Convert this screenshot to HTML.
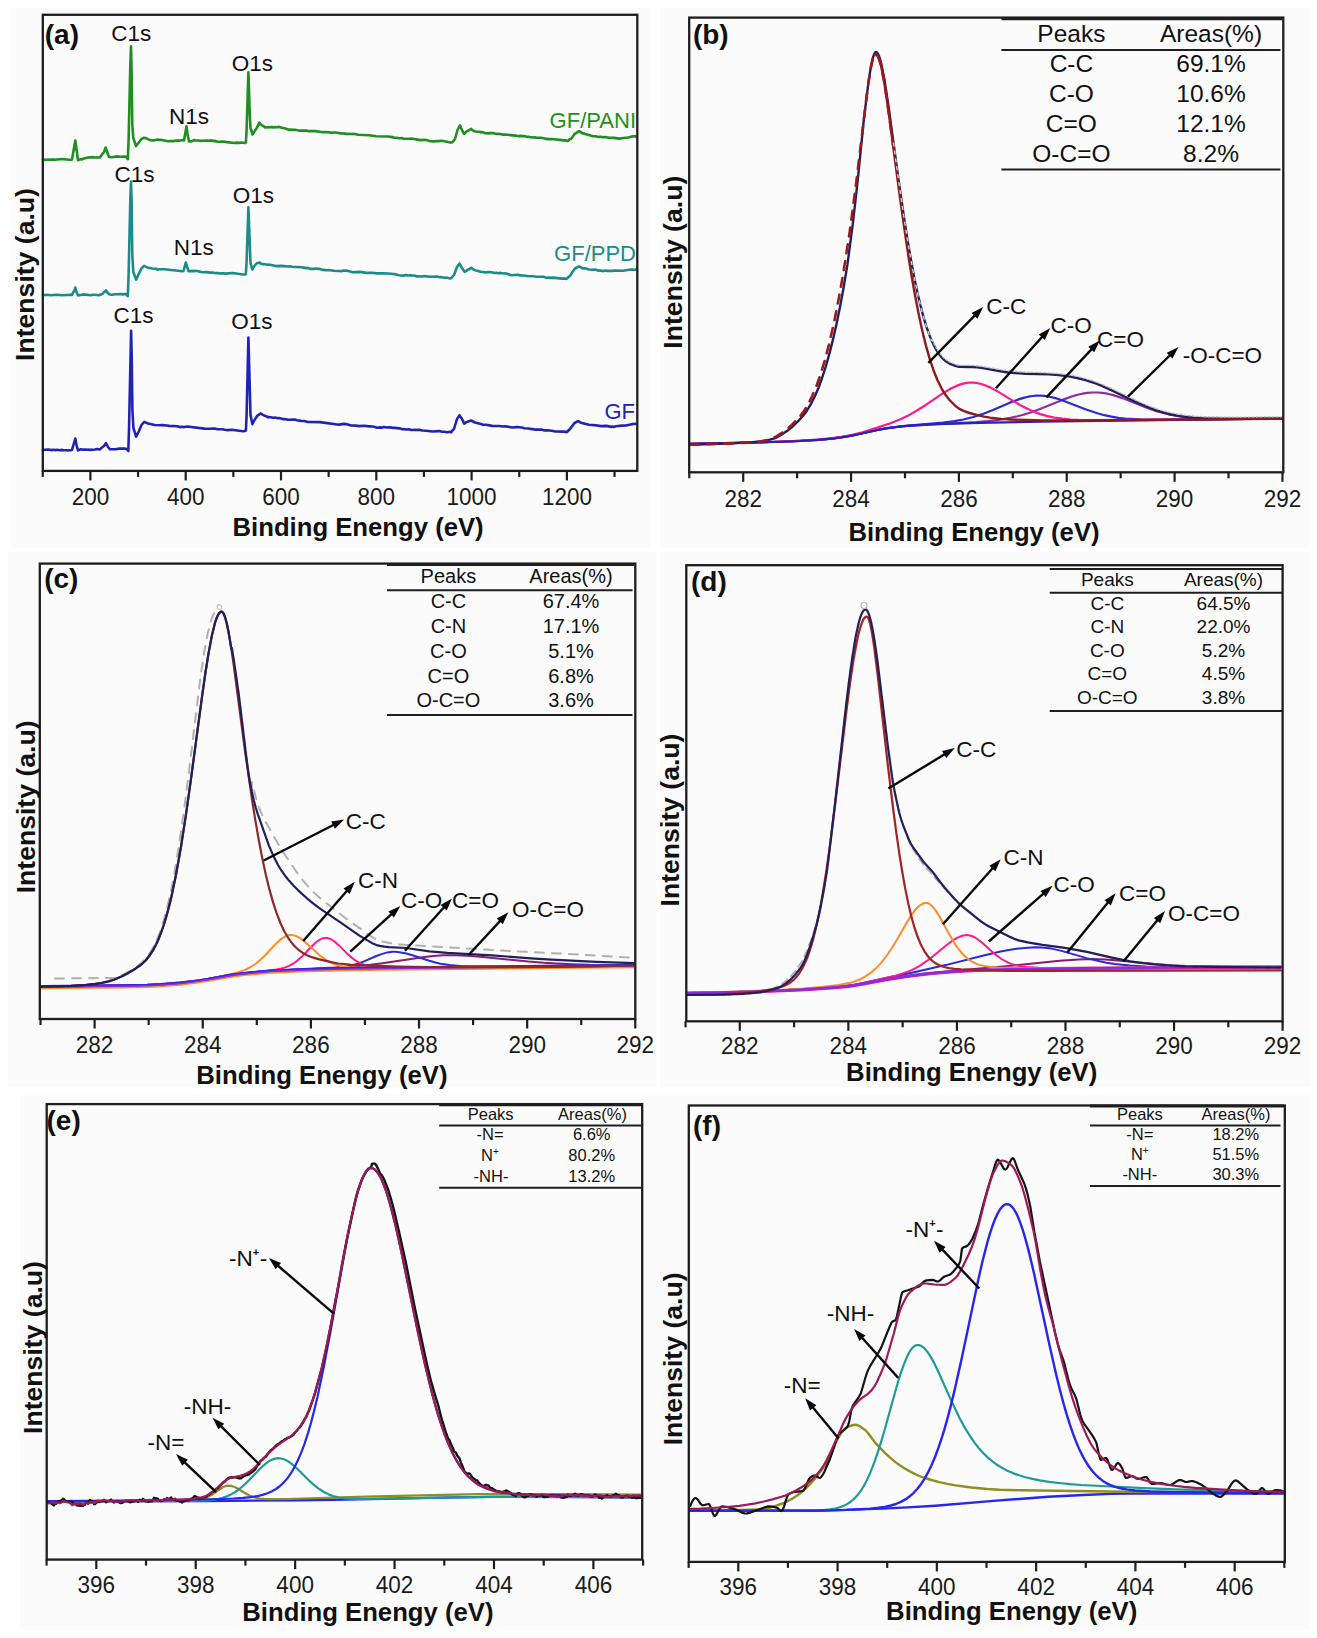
<!DOCTYPE html>
<html><head><meta charset="utf-8"><style>
html,body{margin:0;padding:0;background:#fff;overflow:hidden;width:1317px;height:1638px;}
svg{display:block;font-family:"Liberation Sans", sans-serif;}
</style></head><body>
<svg width="1317" height="1638" viewBox="0 0 1317 1638">
<rect x="0" y="0" width="1317" height="1638" fill="#fff"/>
<rect x="11" y="8" width="640" height="540" fill="#fbfbfb"/>
<rect x="660" y="8" width="650" height="540" fill="#fbfbfb"/>
<rect x="8" y="552" width="648" height="535" fill="#fbfbfb"/>
<rect x="660" y="552" width="650" height="535" fill="#fbfbfb"/>
<rect x="20" y="1095" width="640" height="535" fill="#fbfbfb"/>
<rect x="660" y="1095" width="650" height="535" fill="#fbfbfb"/>
<path d="M43,159.7 44,159.4 46,159.9 49,159.5 51,159.7 53,159.4 55,159.8 62,159 69,159.8 71,159.9 72,159.5 75.3,140.5 78,160.3 80,159.4 81,159.1 82,159.5 83,158.8 88,157.5 93,157.1 94,157.5 100,157.5 102,154.4 104,152 105.6,147.5 109,157 112,157.2 117,156.4 120.3,156.7 125.9,156.5 127.8,159.2 128.6,140 130.3,65 131,46.4 131.6,70 132.3,125 133.3,138 136,146 141.5,139 143.7,137.8 145.9,138.1 150,140.2 153.3,140.4 157.8,139.4 158.8,139.9 159.8,140 160.9,139.8 168,141.3 170,141 173,141.1 177,140.5 180,140.6 183,140 184,140.5 186.5,126.2 187.5,134 189,141.5 191,141.4 193,140.8 194,140 195,140.5 198.1,140.5 201.1,140.9 207.2,140.5 209.2,140.7 210.3,140.4 215.3,141.1 217.4,141.7 222.4,141.5 225.5,141.7 226.5,142.1 234.6,143 236.7,142.6 238.7,142.9 241.8,142.5 244.8,143 245.9,142.4 246.6,130 248.4,72.4 249.8,115 250.5,128 252.5,134.5 256.8,127.9 259.4,122.6 260.6,124.2 265.1,127.4 272.3,127.1 273.3,127.4 275.3,127.1 277.4,127.3 278.4,126.8 282.6,128 283.7,128 288.9,129.7 290,129.5 293,129.9 295,129.8 299,130.6 306,130.5 308,131.1 315,131.1 323,132.2 324,132 330,132.4 332,132.8 333,132.5 335,132.5 339,133 340,133.4 344,133.5 346.1,133.9 347.1,133.7 351.1,134 353.1,133.9 354.1,134.1 355.1,133.9 358.1,134.7 369.1,135.3 376.2,136.3 388.2,136.5 392.2,137.1 394.2,137.8 396.2,137.7 399.2,138.3 401.2,138 403.2,138.6 409.3,138.7 411.3,138.5 420.3,140.1 424.3,139.8 426.3,140 430.3,141.2 434.3,141.4 437.4,141 439.4,141.1 440.4,140.7 443.4,141 450.4,142.6 452.4,142.3 455,139 457.5,130 460,125.3 461,128 464,134 466.3,131.7 471.2,128.9 472.6,130.4 475.1,131.5 479.6,131.7 480.7,132.4 481.7,132.1 485.7,133.3 488.7,133.4 489.7,133 492.7,133.1 496.7,133.9 498.7,133.8 502.7,134.6 504.7,134.5 515.7,135.6 518.7,136.2 519.7,135.9 523.7,136.1 527.8,137 528.8,136.8 529.8,137.1 533.8,137.5 534.8,137.3 535.8,137.6 540.8,137.7 544.8,138.6 548.8,139.1 551.8,139 563.8,140.4 564.8,140.3 566.8,140.6 567.8,141.1 569.9,139 571,139 575,133.5 576,133.2 579,131.2 583,133.5 584,133.5 585,134 589,135.1 590,135 591.1,135.8 593.2,136.3 595.4,136.2 598.6,136.9 601.7,136.9 602.7,137.2 604.8,137 608.9,137.8 613.9,137.9 619,138.6 628,137.5 633,136.3 636,136.4" fill="none" stroke="#1f8f22" stroke-width="2.6" stroke-linejoin="round" stroke-linecap="round" />
<path d="M43,295.5 44,295 47,294.7 51,295.2 57,294.8 62,295.3 71,294.7 72,295 73.2,292.3 74.5,290.5 75.3,287.6 76.5,292 78,295.5 83,294.4 91,295.2 92,294.8 95,294.8 99,295.3 100,294.5 101,294.7 103,293.5 104,292 105,291.6 106,290.3 107,292 109,294 110,294.5 112.1,294.8 115.3,294.3 121.7,294.1 122.7,294.4 125.9,294 127.8,296 128.6,275 130.3,200 131,181.6 131.6,200 132.3,255 133.3,272 136.1,279.6 141.5,268.5 144.1,265.9 149.1,268.1 150.1,267.9 152.2,268.5 156.4,268.9 157.4,269.6 159.5,269.2 164.5,269.3 182.5,271.3 183.5,271 185.8,262.5 188.5,271.2 192.9,270.9 194,271.2 195,270.8 197,271 202.1,272.2 206.2,272.1 210.3,272.6 212.3,272.5 214.3,273 218.4,273.1 219.4,273.5 222.4,273.2 225.5,273.6 232.6,273 242.8,274.5 244.8,274.5 245.9,274 246.6,262 248.4,207.4 250.5,263 252.3,269.5 254,266.5 257,263 258.4,263 259.8,262.5 260.9,263.6 261.9,264.1 263,264 267.8,264.8 268.8,264.5 275.8,266.1 281.8,265.9 287.9,266.5 289.9,266.3 291.9,266.7 301.9,267.2 302.9,267.6 307.9,268.1 310.9,268.9 313.9,268.9 316,268.5 317,268.9 320,268.9 323,269.9 327,270.2 328,270 334,270.8 342,271.1 344,270.5 346,270.6 353,272.3 360,271.9 366.1,272.9 372.1,272.7 377.1,273.4 383.1,273.2 391.1,273.7 396.1,274.4 399.1,275.3 403.1,275.6 406.1,275.1 408.1,275.5 410.1,275.3 415.1,275.7 417.1,276.4 422.2,276.5 424.2,276.1 430.2,276.8 437.2,276.5 440.2,277.2 441.2,277 445.2,277.9 446.2,277.5 450.2,278.4 451.2,278.2 454,275 457,267 459.5,263.6 462,268 464.6,271.8 466.9,270.5 468,269.5 469.1,269.4 471.2,267.8 473.7,269.6 476.1,270.6 480.7,271.8 485.8,272.4 488.8,272 491.8,272.3 493.8,272.9 496.9,272.9 497.9,273.2 500.9,272.9 503.9,273.5 505,273.3 507,273.7 511,275.2 518.1,274.8 520.1,275.4 523.1,275.5 529.2,276.3 533.3,276.2 535.3,276.6 543.4,276.8 546.4,277.7 548.4,277.6 550.4,277.9 553.5,277.6 561.5,278.6 564.6,278.4 566.6,278.9 568.9,276.7 570,276 572,272.6 575,268.5 579,266.4 583,268.5 585,268.3 589,269.5 592.1,269.8 595.1,269.5 598.2,270.6 600.2,270.5 603.3,271.1 605.3,270.6 607.4,270.9 611.5,270.7 612.5,271 613.5,270.6 622.9,270.7 631,269.5 635,269.9 636,269.5" fill="none" stroke="#1a8c8c" stroke-width="2.6" stroke-linejoin="round" stroke-linecap="round" />
<path d="M43,450.3 44,449.8 46,449.8 48,449.5 52,450.1 53,449.8 56,450.1 57,449.8 60,450.2 61,449.9 64,450.3 67,450.2 68,450.5 72,450 75.3,438.5 76.5,445 78,450.5 79,449.9 81,449.3 83,449.8 84,449.5 91,449.9 95,449.5 97,448.9 100,449.5 101,448.3 104,446 106,443 108,447 110,449.3 115.2,449.2 119.3,448.6 124.4,448.5 126.5,449 128.3,451 129,430 131.1,330.8 131.7,355 132.4,410 133.4,428 136.1,436.7 139,431 141.5,425 144.3,421.9 148,423.5 154.9,425 160,425.3 162,425.1 167,425.5 169.1,425.9 177.1,426.3 180.2,427.1 182.2,426.8 184.2,427.1 187.2,426.5 204.4,428.6 208.4,428.8 214.5,428.5 217.5,429.2 222.6,429.2 224.6,429.8 227.6,430.1 231.7,429.8 242.8,431.2 243.8,431.2 245.9,430.5 246.6,415 248.4,337.6 250.5,415 252.3,424.1 254.5,420 257.5,415.5 258.5,415.1 260.5,413.4 264,415.5 266.5,416.4 267.8,417.3 268.8,417 273.8,417.7 274.8,417.5 277.8,418.3 278.8,418.1 282.8,419.1 284.9,419 287.9,419.7 294.9,419.6 296.9,420.2 300.9,420.9 303.9,421 307.9,422 320,422.1 337,424.5 339,424.6 344,423.9 347,424.3 351,425.5 356,425.6 359,426.1 364.1,425.7 369.1,426.4 370.1,426.2 374.1,426.8 377.1,427.7 380.1,427.4 382.1,427.6 384.1,426.9 387.1,427.5 389.1,427.2 393.1,427.9 395.1,427.7 396.1,428.1 400.1,428.4 402.1,429.3 403.1,429.1 407.1,429.5 409.1,429.3 411.1,430 415.1,429.8 416.1,430 418.1,429.8 420.1,429.9 422.2,430.5 426.2,430.7 432.2,431.5 439.2,431.1 442.2,431.8 444.2,431.8 447.2,432.2 450.2,431.8 451.2,432.3 452.6,430.2 454,429 457,419 459.5,415.3 462,419 464.2,423.6 466.7,421.9 471.2,420.5 475,422.5 482,424.3 483,424.8 486,424.7 492.1,425.9 499.1,426 503.1,426.5 505.2,426.3 512.2,427.5 517.2,427.1 519.3,427.3 523.3,427.8 524.3,428.3 528.3,428.5 535.4,429.6 541.4,429.5 544.4,430.4 547.5,430.3 551.5,430.7 555.5,431.5 563.6,431.6 565.6,431.9 566.6,432.3 570,429 574.5,423 577.1,421.6 578.4,421.2 580.8,422.7 589,424.8 595.1,425.2 601.3,426.1 606.4,425.9 611.5,426.9 612.5,426.6 613.5,426.9 615.6,426.2 621.9,425.6 626,425.5 633,423.9 636,424" fill="none" stroke="#2323b3" stroke-width="2.6" stroke-linejoin="round" stroke-linecap="round" />
<rect x="42.8" y="14.8" width="594.5" height="456.1" fill="none" stroke="#1e1e1e" stroke-width="2.3"/>
<line x1="90.4" y1="470.9" x2="90.4" y2="480.4" stroke="#1e1e1e" stroke-width="2.2" />
<line x1="185.7" y1="470.9" x2="185.7" y2="480.4" stroke="#1e1e1e" stroke-width="2.2" />
<line x1="281" y1="470.9" x2="281" y2="480.4" stroke="#1e1e1e" stroke-width="2.2" />
<line x1="376.3" y1="470.9" x2="376.3" y2="480.4" stroke="#1e1e1e" stroke-width="2.2" />
<line x1="471.6" y1="470.9" x2="471.6" y2="480.4" stroke="#1e1e1e" stroke-width="2.2" />
<line x1="566.9" y1="470.9" x2="566.9" y2="480.4" stroke="#1e1e1e" stroke-width="2.2" />
<line x1="42.75" y1="470.9" x2="42.75" y2="476.9" stroke="#1e1e1e" stroke-width="2.2" />
<line x1="138.05" y1="470.9" x2="138.05" y2="476.9" stroke="#1e1e1e" stroke-width="2.2" />
<line x1="233.35" y1="470.9" x2="233.35" y2="476.9" stroke="#1e1e1e" stroke-width="2.2" />
<line x1="328.65" y1="470.9" x2="328.65" y2="476.9" stroke="#1e1e1e" stroke-width="2.2" />
<line x1="423.95" y1="470.9" x2="423.95" y2="476.9" stroke="#1e1e1e" stroke-width="2.2" />
<line x1="519.25" y1="470.9" x2="519.25" y2="476.9" stroke="#1e1e1e" stroke-width="2.2" />
<line x1="614.55" y1="470.9" x2="614.55" y2="476.9" stroke="#1e1e1e" stroke-width="2.2" />
<text transform="translate(90.4,504.5) scale(1,1.08)" font-size="22.5" text-anchor="middle" fill="#1a1a1a" >200</text>
<text transform="translate(185.7,504.5) scale(1,1.08)" font-size="22.5" text-anchor="middle" fill="#1a1a1a" >400</text>
<text transform="translate(281,504.5) scale(1,1.08)" font-size="22.5" text-anchor="middle" fill="#1a1a1a" >600</text>
<text transform="translate(376.3,504.5) scale(1,1.08)" font-size="22.5" text-anchor="middle" fill="#1a1a1a" >800</text>
<text transform="translate(471.6,504.5) scale(1,1.08)" font-size="22.5" text-anchor="middle" fill="#1a1a1a" >1000</text>
<text transform="translate(566.9,504.5) scale(1,1.08)" font-size="22.5" text-anchor="middle" fill="#1a1a1a" >1200</text>
<text x="358.1" y="535.8" font-size="25.7" text-anchor="middle" fill="#111" font-weight="bold" >Binding Enengy (eV)</text>
<text x="0" y="0" font-size="26.6" text-anchor="middle" fill="#111" font-weight="bold" transform="translate(33.6,274.5) rotate(-90)">Intensity (a.u)</text>
<text x="44.8" y="44.2" font-size="28" text-anchor="start" fill="#111" font-weight="bold" >(a)</text>
<text x="131.3" y="41" font-size="22.5" text-anchor="middle" fill="#111" >C1s</text>
<text x="252.3" y="71" font-size="22.5" text-anchor="middle" fill="#111" >O1s</text>
<text x="189" y="124" font-size="22.5" text-anchor="middle" fill="#111" >N1s</text>
<text x="134.5" y="182.2" font-size="22.5" text-anchor="middle" fill="#111" >C1s</text>
<text x="253.3" y="203.3" font-size="22.5" text-anchor="middle" fill="#111" >O1s</text>
<text x="193.7" y="254.5" font-size="22.5" text-anchor="middle" fill="#111" >N1s</text>
<text x="133.6" y="322.8" font-size="22.5" text-anchor="middle" fill="#111" >C1s</text>
<text x="251.8" y="328.9" font-size="22.5" text-anchor="middle" fill="#111" >O1s</text>
<text x="636" y="127.7" font-size="22" text-anchor="end" fill="#1f8f22" >GF/PANI</text>
<text x="636" y="260.8" font-size="22" text-anchor="end" fill="#1a8c8c" >GF/PPD</text>
<text x="635" y="418.9" font-size="22" text-anchor="end" fill="#2323b3" >GF</text>
<path d="M690.4,443.8 737.4,442.9 772.4,442 799.4,441 819.4,439.8 833.4,438.4 845.4,436.7 855.4,434.8 879.4,429.5 888.4,428 898.4,426.7 909.4,425.7 922.4,424.8 976.4,422.1 987.4,421.2 996.4,420.2 1003.4,419.2 1010.4,417.9 1017.4,416.3 1023.4,414.7 1030.4,412.5 1037.4,410 1062.4,399.9 1072.4,396.3 1077.4,394.8 1082.4,393.7 1087.4,392.9 1092.4,392.5 1097.4,392.5 1102.4,392.9 1107.4,393.7 1112.4,394.9 1122.4,398.1 1145.4,407.2 1156.4,411.1 1162.4,412.8 1168.4,414.3 1174.4,415.5 1181.4,416.6 1188.4,417.5 1195.4,418 1213.4,418.8 1236.4,418.9 1281.4,418.5" fill="none" stroke="#8e2d9e" stroke-width="2.2" stroke-linejoin="round" stroke-linecap="round" />
<path d="M690.4,443.8 750.4,442.6 790.4,441.4 818.4,439.8 829.4,438.9 839.4,437.7 851.4,435.7 876.4,430.1 889.4,427.8 905.4,425.9 943.4,422.7 954.4,421.2 963.4,419.5 973.4,417 983.4,413.7 992.4,410.2 1010.4,402.4 1019.4,399.1 1024.4,397.6 1028.4,396.7 1032.4,396 1036.4,395.7 1040.4,395.7 1044.4,395.9 1048.4,396.5 1053.4,397.6 1058.4,399 1063.4,400.7 1085.4,409.3 1097.4,413.3 1104.4,415.2 1111.4,416.7 1118.4,417.8 1125.4,418.5 1140.4,419.4 1160.4,419.7 1281.4,418.5" fill="none" stroke="#2a2ad6" stroke-width="2.2" stroke-linejoin="round" stroke-linecap="round" />
<path d="M690.4,443.8 758.4,442.3 782.4,441.5 802.4,440.6 817.4,439.6 830.4,438.4 841.4,436.9 851.4,435 862.4,432.2 877.4,427.6 890.4,423.2 900.4,419.2 909.4,414.9 917.4,410.3 925.4,405.2 942.4,393.6 951.4,388.3 956.4,385.9 961.4,384.1 966.4,382.9 970.4,382.5 974.4,382.7 979.4,383.5 984.4,385 989.4,387 993.4,389 998.4,391.9 1013.4,401.1 1020.4,405.2 1027.4,408.8 1034.4,411.9 1040.4,414.1 1047.4,416.1 1054.4,417.6 1062.4,418.7 1070.4,419.5 1078.4,419.9 1102.4,420.2 1281.4,418.5" fill="none" stroke="#ff1a8c" stroke-width="2.2" stroke-linejoin="round" stroke-linecap="round" />
<path d="M690.4,443.8 738.4,443 773.4,442 800.4,441 820.4,439.7 834.4,438.4 846.4,436.6 856.4,434.7 877.4,430 884.4,428.7 892.4,427.5 901.4,426.5 911.4,425.6 937.4,424.1 979.4,422.8 1041.4,421.6 1136.4,420.3 1281.4,418.6" fill="none" stroke="#2424b8" stroke-width="2.2" stroke-linejoin="round" stroke-linecap="round" />
<path d="M690.4,444.8 703.4,444.2 735.9,443.1 752.4,442.1 759.9,441.4 765.4,440.7 769.9,439.7 774.4,438.4 776.9,437.3 779.9,435.7 786.9,431.1 792.4,426.7 797.9,421.4 802.9,416 806.4,411.4 810.4,404.9 814.4,397.2 818.4,388 821.9,378.5 825.9,366.1 829.4,353.7 832.9,339.9 836.4,324.4 839.9,307.4 843.4,288.7 847.4,264.9 852.9,223.1 857.4,183.3 863.9,119.1 868.4,82.9 870.4,69.7 872.4,59.7 873.9,54.7 874.9,52.7 875.9,52 876.4,52.1 876.9,52.4 877.9,53.7 878.9,55.7 879.9,58.6 881.9,66.4 884.4,79.4 888.4,105.5 898.9,182.4 904.9,223.3 908.4,245.1 911.4,262.3 914.4,278.1 917.4,292.4 920.4,305.2 923.4,316.6 926.4,326.6 929.9,336.4 932.9,343.4 936.4,350.1 939.9,355.3 941.9,357.6 943.9,359.6 946.9,362 949.9,363.8 955.4,365.9 958.9,366.8 971.9,367 977.4,367.4 984.4,368.4 1004.9,372 1014.9,373.1 1025.4,373.7 1048.9,374.4 1058.4,375.1 1068.9,376.4 1079.4,378.5 1085.4,380.1 1090.9,381.8 1096.4,383.7 1102.4,386.1 1112.9,390.8 1137.9,402.9 1150.9,408.4 1157.4,410.7 1163.9,412.6 1170.4,414.3 1177.4,415.6 1184.9,416.8 1192.9,417.6 1201.4,418.2 1211.4,418.5 1235.9,418.8 1281.9,418.4" fill="none" stroke="#22205c" stroke-width="2.4" stroke-linejoin="round" stroke-linecap="round" />
<path d="M874.5,55.1 875,54.6 875.5,54.4 876,54.4 876.5,54.6 877.5,55.6 879,58.8 880,61.9 881.5,67.9 884,80.8 888,107.2 900.5,201.6 907.5,250.2 911.5,275.2 915,295.2 919,315.8 922.5,331.8 926,345.9 930,359.8 933.5,370.2 937.5,380.2 941.5,388.3 945.5,394.8 949.5,400 955.5,406 959,408.6 963.5,410.8 969.5,413 977.5,415.1 984,416.6 990,417.6 1001,418.9 1010.5,419.5 1043,420.4 1104,420.4 1281.5,418.6" fill="none" stroke="#8a1c1c" stroke-width="2.4" stroke-linejoin="round" stroke-linecap="round" />
<path d="M690.4,444.8 731.4,443.4 747.4,442.6 760.9,441.3 764.9,440.6 768.9,439.5 772.4,438.3 776.4,436.3 781.9,432.9 786.4,429.6 790.9,425.8 795.9,420.8 800.4,415.9 803.4,411.9 807.9,404.6 812.4,395.6 816.9,384.7 820.9,373.3 824.9,360 828.9,344.8 832.9,327.6 836.9,308.4 840.4,289.8 843.4,272.5 849.4,233.9 855.9,185.4 867.4,89.7 870.4,69.9 871.9,62.6 872.9,58.9 873.9,56.2 874.9,54.7 875.9,54.4 876.9,54.9 877.9,56.3 878.9,58.5 879.9,61.5 881.4,67.3 883.9,80.1 886.4,95.8 893.4,147.6" fill="none" stroke="#a01818" stroke-width="2.6" stroke-linejoin="round" stroke-linecap="round" stroke-dasharray="9 8" stroke-linecap="butt"/>
<path d="M893.5,143 899.5,186.9 904.5,221 909,248.8 913.5,273.6 918,295.2 922.5,313.5 927,328.5 929,334.1 931.5,340.4" fill="none" stroke="#d4d4dc" stroke-width="1.4" stroke-linejoin="round" stroke-linecap="round" stroke-dasharray="3 5" stroke-linecap="butt"/>
<path d="M932,339.8 934.5,345 937,349.5 939.5,353.1 942.5,356.7 945.5,359.4 948.5,361.4 950,362.2 956,364.5 959.5,365.3 972,365.4 978,365.9 985,366.9 1004,370.2 1011.5,371.2 1023.5,372 1046,372.7 1056,373.3 1067,374.5 1077.5,376.5 1084,378.1 1090,379.9 1096,382 1102,384.3 1113,389.2 1137.5,401.1 1149.5,406.2 1160.5,410.1 1171,412.8 1179,414.3 1187.5,415.5 1196.5,416.3 1207,416.8 1233,417.2 1282,416.8" fill="none" stroke="#bcbcc4" stroke-width="1.3" stroke-linejoin="round" stroke-linecap="round" stroke-dasharray="2 2" stroke-linecap="butt"/>
<rect x="689.2" y="17.6" width="594.1" height="454.7" fill="none" stroke="#1e1e1e" stroke-width="2.3"/>
<line x1="743.2" y1="472.3" x2="743.2" y2="481.8" stroke="#1e1e1e" stroke-width="2.2" />
<line x1="851.05" y1="472.3" x2="851.05" y2="481.8" stroke="#1e1e1e" stroke-width="2.2" />
<line x1="958.9" y1="472.3" x2="958.9" y2="481.8" stroke="#1e1e1e" stroke-width="2.2" />
<line x1="1066.75" y1="472.3" x2="1066.75" y2="481.8" stroke="#1e1e1e" stroke-width="2.2" />
<line x1="1174.6" y1="472.3" x2="1174.6" y2="481.8" stroke="#1e1e1e" stroke-width="2.2" />
<line x1="1282.45" y1="472.3" x2="1282.45" y2="481.8" stroke="#1e1e1e" stroke-width="2.2" />
<line x1="689.28" y1="472.3" x2="689.28" y2="478.3" stroke="#1e1e1e" stroke-width="2.2" />
<line x1="797.12" y1="472.3" x2="797.12" y2="478.3" stroke="#1e1e1e" stroke-width="2.2" />
<line x1="904.98" y1="472.3" x2="904.98" y2="478.3" stroke="#1e1e1e" stroke-width="2.2" />
<line x1="1012.82" y1="472.3" x2="1012.82" y2="478.3" stroke="#1e1e1e" stroke-width="2.2" />
<line x1="1120.67" y1="472.3" x2="1120.67" y2="478.3" stroke="#1e1e1e" stroke-width="2.2" />
<line x1="1228.52" y1="472.3" x2="1228.52" y2="478.3" stroke="#1e1e1e" stroke-width="2.2" />
<text transform="translate(743.2,506.5) scale(1,1.08)" font-size="22.5" text-anchor="middle" fill="#1a1a1a" >282</text>
<text transform="translate(851.05,506.5) scale(1,1.08)" font-size="22.5" text-anchor="middle" fill="#1a1a1a" >284</text>
<text transform="translate(958.9,506.5) scale(1,1.08)" font-size="22.5" text-anchor="middle" fill="#1a1a1a" >286</text>
<text transform="translate(1066.75,506.5) scale(1,1.08)" font-size="22.5" text-anchor="middle" fill="#1a1a1a" >288</text>
<text transform="translate(1174.6,506.5) scale(1,1.08)" font-size="22.5" text-anchor="middle" fill="#1a1a1a" >290</text>
<text transform="translate(1282.45,506.5) scale(1,1.08)" font-size="22.5" text-anchor="middle" fill="#1a1a1a" >292</text>
<text x="974" y="540.6" font-size="25.7" text-anchor="middle" fill="#111" font-weight="bold" >Binding Enengy (eV)</text>
<text x="0" y="0" font-size="26.6" text-anchor="middle" fill="#111" font-weight="bold" transform="translate(682,262.2) rotate(-90)">Intensity (a.u)</text>
<text x="692.9" y="43.8" font-size="28" text-anchor="start" fill="#111" font-weight="bold" >(b)</text>
<line x1="1001.4" y1="18.7" x2="1282.7" y2="18.7" stroke="#1e1e1e" stroke-width="3" />
<line x1="1001.4" y1="49.9" x2="1280.4" y2="49.9" stroke="#1e1e1e" stroke-width="2" />
<line x1="1001.4" y1="169.5" x2="1280.4" y2="169.5" stroke="#1e1e1e" stroke-width="2" />
<text x="1071.4" y="41.9" font-size="24.5" text-anchor="middle" fill="#111" >Peaks</text>
<text x="1211" y="41.9" font-size="24.5" text-anchor="middle" fill="#111" >Areas(%)</text>
<text x="1071.4" y="72" font-size="24.5" text-anchor="middle" fill="#111" >C-C</text>
<text x="1211" y="72" font-size="24.5" text-anchor="middle" fill="#111" >69.1%</text>
<text x="1071.4" y="102" font-size="24.5" text-anchor="middle" fill="#111" >C-O</text>
<text x="1211" y="102" font-size="24.5" text-anchor="middle" fill="#111" >10.6%</text>
<text x="1071.4" y="131.9" font-size="24.5" text-anchor="middle" fill="#111" >C=O</text>
<text x="1211" y="131.9" font-size="24.5" text-anchor="middle" fill="#111" >12.1%</text>
<text x="1071.4" y="161.5" font-size="24.5" text-anchor="middle" fill="#111" >O-C=O</text>
<text x="1211" y="161.5" font-size="24.5" text-anchor="middle" fill="#111" >8.2%</text>
<line x1="928.4" y1="362.9" x2="975.86" y2="314.4" stroke="#0a0a0a" stroke-width="2.4" />
<path d="M983.2,306.9 L977.39,318.7 L971.53,312.97 Z" fill="#0a0a0a"/>
<line x1="995.9" y1="388.2" x2="1043.17" y2="335.8" stroke="#0a0a0a" stroke-width="2.4" />
<path d="M1050.2,328 L1044.87,340.03 L1038.78,334.54 Z" fill="#0a0a0a"/>
<line x1="1046.4" y1="397.4" x2="1092.62" y2="348.06" stroke="#0a0a0a" stroke-width="2.4" />
<path d="M1099.8,340.4 L1094.25,352.33 L1088.26,346.72 Z" fill="#0a0a0a"/>
<line x1="1127.9" y1="396.6" x2="1171.01" y2="354.26" stroke="#0a0a0a" stroke-width="2.4" />
<path d="M1178.5,346.9 L1172.46,358.58 L1166.71,352.73 Z" fill="#0a0a0a"/>
<text x="986.3" y="313.7" font-size="22.5" text-anchor="start" fill="#111" >C-C</text>
<text x="1050.5" y="333.3" font-size="22.5" text-anchor="start" fill="#111" >C-O</text>
<text x="1097" y="347.4" font-size="22.5" text-anchor="start" fill="#111" >C=O</text>
<text x="1182.7" y="362.7" font-size="22.5" text-anchor="start" fill="#111" >-O-C=O</text>
<path d="M41.4,988.3 120.4,987.5 147.4,986.9 160.4,986.3 180.4,984.7 197.4,982.6 207.4,981.1 230.4,976.9 244.4,975.1 257.4,973.9 270.4,972.8 300.4,971.5 335.4,970.5 385.4,969.7 527.4,968.2 633.4,967.3" fill="none" stroke="#ff8c28" stroke-width="2.0" stroke-linejoin="round" stroke-linecap="round" />
<path d="M41.4,986.4 80.4,986.1 126.4,985.5 151.4,984.8 166.4,983.9 183.4,982.4 199.4,980.4 208.4,979 231.4,974.7 237.4,973.9 248.4,972.7 262.4,971.3 275.4,970.4 334.4,967.6 358.4,965.9 370.4,964.7 382.4,963.2 424.4,956.9 433.4,955.9 442.4,955.3 456.4,955.3 471.4,956 485.4,957.2 528.4,961.6 543.4,962.8 557.4,963.6 572.4,964.2 589.4,964.7 633.4,965" fill="none" stroke="#8b1a6b" stroke-width="2.0" stroke-linejoin="round" stroke-linecap="round" />
<path d="M41.4,986.5 119.4,985.7 145.4,985.1 159.4,984.5 179.4,982.9 194.4,981.2 206.4,979.5 232.4,974.7 238.4,973.9 253.4,972.4 265.4,971.3 277.4,970.6 324.4,968.6 337.4,967.8 347.4,966.4 355.4,964.4 363.4,961.6 376.4,956 381.4,954.1 387.4,952.4 392.4,951.8 395.4,951.8 399.4,952.2 406.4,953.5 412.4,955.3 429.4,960.8 435.4,962.5 440.4,963.7 449.4,965.1 460.4,966.1 472.4,966.5 489.4,966.6 633.4,965.5" fill="none" stroke="#2a2ad6" stroke-width="2.0" stroke-linejoin="round" stroke-linecap="round" />
<path d="M41.4,986.5 78.4,986.2 123.4,985.6 150.4,984.9 163.4,984.2 180.4,982.8 193.4,981.3 206.4,979.4 226.4,975.6 234.4,974.3 269.4,970.5 276.4,969.6 281.4,968.5 285.4,967.4 289.4,965.7 293.4,963.5 297.4,960.6 301.4,957.1 312.4,945.7 316.4,942 319.4,939.9 321.4,938.9 323.4,938.2 325.4,937.9 327.4,938 329.4,938.6 331.4,939.5 334.4,941.4 338.4,944.9 346.4,952.9 350.4,956.6 354.4,959.8 357.4,961.7 361.4,963.8 365.4,965.2 370.4,966.4 375.4,967 385.4,967.5 404.4,967.5 633.4,965.5" fill="none" stroke="#ff1a8c" stroke-width="2.0" stroke-linejoin="round" stroke-linecap="round" />
<path d="M41.4,986.5 114.4,985.7 138.4,985.3 155.4,984.7 171.4,983.5 187.4,981.9 202.4,979.9 215.4,977.5 230.4,974.2 239.4,971.9 245.4,969.7 250.4,967.2 255.4,964 260.4,959.8 265.4,955 275.4,944.3 280.4,939.6 283.4,937.5 285.4,936.4 288.4,935.3 290.4,935 292.4,935.1 295.4,935.8 297.4,936.6 300.4,938.4 305.4,942.3 319.4,955.1 324.4,958.9 328.4,961.4 333.4,963.8 338.4,965.4 343.4,966.5 349.4,967.2 359.4,967.7 377.4,967.7 633.4,965.5" fill="none" stroke="#ff8c28" stroke-width="2.0" stroke-linejoin="round" stroke-linecap="round" />
<path d="M41.4,986.5 120.4,985.7 147.4,985.1 160.4,984.5 180.4,982.9 197.4,980.8 207.4,979.3 230.4,975.1 244.4,973.3 257.4,972.1 270.4,971 300.4,969.7 335.4,968.7 385.4,967.9 527.4,966.4 633.4,965.5" fill="none" stroke="#8a2be2" stroke-width="2.6" stroke-linejoin="round" stroke-linecap="round" />
<path d="M41.4,985.7 120.4,984.9 147.4,984.3 160.4,983.7 180.4,982.1 197.4,980 207.4,978.5 230.4,974.3 244.4,972.5 257.4,971.3 270.4,970.2 300.4,968.9 335.4,967.9 385.4,967.1 527.4,965.6 633.4,964.7" fill="none" stroke="#2a2ad6" stroke-width="1.2" stroke-linejoin="round" stroke-linecap="round" />
<path d="M55,978.5 116,977.9 123.5,974.4 130,970.8 137.5,966 141.5,962.8 145.5,958.7 149.5,953.4 153,947.6 156.5,940.5 159,934.5 161.5,927.6 165.5,914.2 170,895.5 174,875.3 178.5,848.6 183.5,814 188,779.2 198.5,693 201.5,670.3 204,653.2 207.5,634.5 210.5,622.4 212,617.9 213.5,614.5 215,612.3 216,611.4 216.5,611.2 217.5,611.3 218,611.6 219.5,614 220,612.3 221,611.7 222,611.8 222.5,612.1 223.5,613.5 224.5,615.7 226,620.4 228,629.1 231.5,649.7 232,648.5 235.5,671.4 239,696.1 247.5,766.3 249.5,779.4 251.5,790.1 252,782 254,790.5 256.5,799.7 259,807.3 261.5,813.6 264.5,819.6 273.5,835.9 279,845.4 284.5,854.2 296,871.1 300.5,877.2 305,882.9 309,887.5 312.5,891.1 317,895.4 322,899.7 345,917.7 371,936.4 375,938.7 379,940.5 383.5,941.8 389.5,943 398.5,944.4 410,945.2 431.5,946.4 493,950.1 562.5,953.7 634,957.7" fill="none" stroke="#b0b0b0" stroke-width="2.0" stroke-linejoin="round" stroke-linecap="round" stroke-dasharray="9 8" stroke-linecap="butt"/>
<circle cx="219.3" cy="607" r="2.4" fill="none" stroke="#c4c4c4" stroke-width="1.1"/>
<path d="M41.4,986.6 71.4,985.8 86.4,984.9 95.4,983.9 101.4,983 108.4,981.4 113.9,979.7 121.4,976.5 128.4,972.9 135.4,968.7 141.4,964.5 145.4,960.7 149.4,955.8 152.9,950.4 156.4,943.8 158.9,938.2 161.4,931.8 163.9,924.5 166.4,916.3 168.9,907 171.4,896.7 175.9,875.3 180.9,847.4 185.9,815.2 190.9,779.7 202.4,693.8 205.4,673 208.4,654.1 211.9,635.4 214.9,623.2 216.4,618.7 217.9,615.2 219.4,612.9 220.9,611.7 221.9,611.8 222.4,612 222.9,612.6 223.9,614.3 224.9,616.8 226.9,624 229.4,636.7 233.4,662.8 245.4,753.7 251.9,798.8 255.4,820.7 258.9,840.8 262.4,858.9 265.9,875.1 269.4,889.4 272.9,901.9 276.4,912.7 280.4,923 284.4,931.5 288.4,938.3 292.9,944.3 295.4,947 297.9,949.3 302.4,952.7 306.9,955.2 312.4,957.4 318.4,959.1 332.4,962.4 338.4,963.5 349.9,964.5 365.4,965.4 398.4,966.5 427.9,967 449.4,967.2 510.9,967.1 555.9,966.9 596.4,966.3 633.9,965.5" fill="none" stroke="#8b2a2a" stroke-width="2.2" stroke-linejoin="round" stroke-linecap="round" />
<path d="M41.4,986.6 71.4,985.8 86.4,984.9 95.4,983.9 101.4,983 108.4,981.4 113.9,979.7 121.4,976.5 128.4,972.9 135.4,968.7 141.4,964.5 145.4,960.7 149.4,955.8 152.9,950.4 156.4,943.8 158.9,938.2 161.4,931.8 163.9,924.5 166.4,916.3 168.9,907 171.4,896.7 175.9,875.3 180.9,847.4 185.9,815.2 190.9,779.7 202.4,693.8 205.4,673 208.4,654.1 211.9,635.4 214.9,623.2 216.4,618.7 217.9,615.2 219.4,612.9 220.9,611.7 221.9,611.8 222.4,612 223.4,613.3 224.4,615.4 225.4,618.3 226.9,624 228.4,631.2 231.4,649 231.9,647.9 235.4,670.8 238.9,695.4 245.9,754 248.4,772.6 249.9,781.7 251.9,792 253.9,800.8 255.9,808.1 257.9,814.3 268.9,845.6 273.4,855.9 277.9,864.8 280.4,869 282.9,872.7 285.9,876.8 289.4,881.1 293.4,885.5 297.9,890.1 306.9,898.3 313.4,903.6 320.4,908.8 340.4,922.3 359.4,935.6 372.9,943.6 376.4,945.1 379.9,945.9 384.4,946.6 388.9,947.1 405.9,948 429.4,951.3 447.4,952.8 491.9,955.4 534.4,958.6 551.4,959.7 596.4,961.8 633.9,963.1" fill="none" stroke="#22205c" stroke-width="2.2" stroke-linejoin="round" stroke-linecap="round" />
<rect x="39.8" y="563.6" width="595.5" height="455.4" fill="none" stroke="#1e1e1e" stroke-width="2.3"/>
<line x1="94.6" y1="1019" x2="94.6" y2="1028.5" stroke="#1e1e1e" stroke-width="2.2" />
<line x1="202.74" y1="1019" x2="202.74" y2="1028.5" stroke="#1e1e1e" stroke-width="2.2" />
<line x1="310.88" y1="1019" x2="310.88" y2="1028.5" stroke="#1e1e1e" stroke-width="2.2" />
<line x1="419.02" y1="1019" x2="419.02" y2="1028.5" stroke="#1e1e1e" stroke-width="2.2" />
<line x1="527.16" y1="1019" x2="527.16" y2="1028.5" stroke="#1e1e1e" stroke-width="2.2" />
<line x1="635.3" y1="1019" x2="635.3" y2="1028.5" stroke="#1e1e1e" stroke-width="2.2" />
<line x1="40.53" y1="1019" x2="40.53" y2="1025" stroke="#1e1e1e" stroke-width="2.2" />
<line x1="148.67" y1="1019" x2="148.67" y2="1025" stroke="#1e1e1e" stroke-width="2.2" />
<line x1="256.81" y1="1019" x2="256.81" y2="1025" stroke="#1e1e1e" stroke-width="2.2" />
<line x1="364.95" y1="1019" x2="364.95" y2="1025" stroke="#1e1e1e" stroke-width="2.2" />
<line x1="473.09" y1="1019" x2="473.09" y2="1025" stroke="#1e1e1e" stroke-width="2.2" />
<line x1="581.23" y1="1019" x2="581.23" y2="1025" stroke="#1e1e1e" stroke-width="2.2" />
<text transform="translate(94.6,1052.5) scale(1,1.08)" font-size="22.5" text-anchor="middle" fill="#1a1a1a" >282</text>
<text transform="translate(202.74,1052.5) scale(1,1.08)" font-size="22.5" text-anchor="middle" fill="#1a1a1a" >284</text>
<text transform="translate(310.88,1052.5) scale(1,1.08)" font-size="22.5" text-anchor="middle" fill="#1a1a1a" >286</text>
<text transform="translate(419.02,1052.5) scale(1,1.08)" font-size="22.5" text-anchor="middle" fill="#1a1a1a" >288</text>
<text transform="translate(527.16,1052.5) scale(1,1.08)" font-size="22.5" text-anchor="middle" fill="#1a1a1a" >290</text>
<text transform="translate(635.3,1052.5) scale(1,1.08)" font-size="22.5" text-anchor="middle" fill="#1a1a1a" >292</text>
<text x="321.9" y="1083.7" font-size="25.7" text-anchor="middle" fill="#111" font-weight="bold" >Binding Enengy (eV)</text>
<text x="0" y="0" font-size="26.6" text-anchor="middle" fill="#111" font-weight="bold" transform="translate(34.5,806.9) rotate(-90)">Intensity (a.u)</text>
<text x="44.2" y="588.4" font-size="28" text-anchor="start" fill="#111" font-weight="bold" >(c)</text>
<line x1="387" y1="564.5" x2="634" y2="564.5" stroke="#1e1e1e" stroke-width="3" />
<line x1="387" y1="590.2" x2="632.5" y2="590.2" stroke="#1e1e1e" stroke-width="2" />
<line x1="387" y1="715" x2="632.5" y2="715" stroke="#1e1e1e" stroke-width="2" />
<text x="448.4" y="583.2" font-size="20" text-anchor="middle" fill="#111" >Peaks</text>
<text x="571" y="583.2" font-size="20" text-anchor="middle" fill="#111" >Areas(%)</text>
<text x="448.4" y="608.3" font-size="20" text-anchor="middle" fill="#111" >C-C</text>
<text x="571" y="608.3" font-size="20" text-anchor="middle" fill="#111" >67.4%</text>
<text x="448.4" y="632.5" font-size="20" text-anchor="middle" fill="#111" >C-N</text>
<text x="571" y="632.5" font-size="20" text-anchor="middle" fill="#111" >17.1%</text>
<text x="448.4" y="657.6" font-size="20" text-anchor="middle" fill="#111" >C-O</text>
<text x="571" y="657.6" font-size="20" text-anchor="middle" fill="#111" >5.1%</text>
<text x="448.4" y="682.8" font-size="20" text-anchor="middle" fill="#111" >C=O</text>
<text x="571" y="682.8" font-size="20" text-anchor="middle" fill="#111" >6.8%</text>
<text x="448.4" y="706.9" font-size="20" text-anchor="middle" fill="#111" >O-C=O</text>
<text x="571" y="706.9" font-size="20" text-anchor="middle" fill="#111" >3.6%</text>
<line x1="263.7" y1="860.5" x2="334.84" y2="824.27" stroke="#0a0a0a" stroke-width="2.4" />
<path d="M344.2,819.5 L334.92,828.83 L331.2,821.52 Z" fill="#0a0a0a"/>
<line x1="303.2" y1="941" x2="347.9" y2="889.72" stroke="#0a0a0a" stroke-width="2.4" />
<path d="M354.8,881.8 L349.68,893.92 L343.5,888.53 Z" fill="#0a0a0a"/>
<line x1="350.3" y1="951.6" x2="392.63" y2="913.07" stroke="#0a0a0a" stroke-width="2.4" />
<path d="M400.4,906 L393.92,917.45 L388.4,911.38 Z" fill="#0a0a0a"/>
<line x1="404.9" y1="950.8" x2="444.97" y2="906.3" stroke="#0a0a0a" stroke-width="2.4" />
<path d="M452,898.5 L446.68,910.53 L440.59,905.04 Z" fill="#0a0a0a"/>
<line x1="468.8" y1="954.7" x2="501.15" y2="919.89" stroke="#0a0a0a" stroke-width="2.4" />
<path d="M508.3,912.2 L502.79,924.15 L496.79,918.56 Z" fill="#0a0a0a"/>
<text x="345.7" y="828.6" font-size="22.5" text-anchor="start" fill="#111" >C-C</text>
<text x="357.9" y="887.9" font-size="22.5" text-anchor="start" fill="#111" >C-N</text>
<text x="401" y="908.2" font-size="22.5" text-anchor="start" fill="#111" >C-O</text>
<text x="452" y="908.2" font-size="22.5" text-anchor="start" fill="#111" >C=O</text>
<text x="512" y="916.8" font-size="22.5" text-anchor="start" fill="#111" >O-C=O</text>
<path d="M687.6,992.9 729.6,992.2 767.6,991 805.6,989.2 836.6,987 846.6,986.1 853.6,985.2 861.6,983.9 888.6,978.7 912.6,975.1 928.6,973.1 962.6,969.9 1008.6,966 1059.6,960.7 1078.6,959.4 1092.6,959.1 1105.6,959.5 1117.6,960.5 1157.6,964.3 1171.6,965.3 1186.6,966 1218.6,966.6 1280.6,966.8" fill="none" stroke="#8b1a6b" stroke-width="2.0" stroke-linejoin="round" stroke-linecap="round" />
<path d="M687.6,992.8 735.6,991.9 782.6,990.2 802.6,989.1 819.6,988 835.6,986.8 848.6,985.4 855.6,984.4 862.6,983 884.6,978.2 903.6,974.4 920.6,970.7 945.6,965.1 982.6,955.7 1000.6,951.6 1008.6,950.1 1016.6,948.8 1024.6,947.9 1031.6,947.4 1036.6,947.2 1041.6,947.4 1046.6,947.9 1051.6,948.6 1061.6,950.9 1086.6,958.1 1099.6,961.3 1106.6,962.7 1114.6,964 1129.6,965.6 1145.6,966.5 1166.6,966.9 1280.6,966.8" fill="none" stroke="#2a2ad6" stroke-width="2.0" stroke-linejoin="round" stroke-linecap="round" />
<path d="M687.6,992.9 719.6,992.4 744.6,991.7 775.6,990.6 802.6,989.2 825.6,987.7 845.6,985.9 854.6,984.7 864.6,982.8 895.6,975.8 903.6,973.3 911.6,970.1 915.6,968.1 919.6,965.8 926.6,961.2 933.6,955.8 947.6,944.2 953.6,939.9 957.6,937.6 960.6,936.3 963.6,935.5 966.6,935.1 968.6,935.2 971.6,936 973.6,936.8 976.6,938.5 981.6,942.3 991.6,951.3 996.6,955.4 1001.6,959 1005.6,961.3 1010.6,963.6 1015.6,965.2 1020.6,966.3 1026.6,967.1 1038.6,967.8 1057.6,967.9 1215.6,967.1 1280.6,967" fill="none" stroke="#ff1a8c" stroke-width="2.0" stroke-linejoin="round" stroke-linecap="round" />
<path d="M687.6,992.7 720.6,992.1 747.6,991.3 778.6,989.9 804.6,988.4 823.6,986.8 838.6,985 848.6,983.1 852.6,982.1 856.6,980.7 860.6,979 863.6,977.5 869.6,973.7 872.6,971.3 875.6,968.6 880.6,963.4 885.6,957.2 891.6,948.5 896.6,940.3 907.6,921.2 910.6,916.4 913.6,912 916.6,908.4 919.6,905.5 922.6,903.7 924.6,903 925.6,902.9 927.6,903.1 928.6,903.5 930.6,904.7 932.6,906.6 935.6,910.4 939.6,916.7 949.6,935 953.6,941.8 958.6,949.2 962.6,954 964.6,956 967.6,958.7 969.6,960.1 972.6,962 975.6,963.4 978.6,964.6 984.6,966.1 990.6,966.9 997.6,967.4 1007.6,967.7 1022.6,967.9 1280.6,966.9" fill="none" stroke="#ff8c28" stroke-width="2.0" stroke-linejoin="round" stroke-linecap="round" />
<path d="M687.6,994.2 727.6,993.5 763.6,992.4 801.6,990.8 831.6,988.8 846.6,987.5 853.6,986.6 862.6,985.1 887.6,980.3 907.6,977.4 921.6,975.5 932.6,974.4 947.6,973.1 962.6,972.1 976.6,971.3 1019.6,970.2 1076.6,969.4 1194.6,968.5 1280.6,968.2" fill="none" stroke="#ff1a8c" stroke-width="1.4" stroke-linejoin="round" stroke-linecap="round" />
<path d="M687.6,993 727.6,992.3 763.6,991.2 801.6,989.6 831.6,987.6 846.6,986.3 853.6,985.4 862.6,983.9 887.6,979.1 907.6,976.2 921.6,974.3 932.6,973.2 947.6,971.9 962.6,970.9 976.6,970.1 1019.6,969 1076.6,968.2 1194.6,967.3 1280.6,967" fill="none" stroke="#8a2be2" stroke-width="2.6" stroke-linejoin="round" stroke-linecap="round" />
<path d="M687.6,995 721.6,994.8 737.1,994.2 748.1,993.5 757.6,992.7 762.1,991.9 766.6,990.7 773.6,988.2 778.6,985.9 782.6,983.4 786.6,980.2 791.6,975.3 796.6,969.2 801.1,962.8 804.1,957.1 807.1,950 810.6,941 813.6,932.4 816.1,924.5 818.1,917.1 820.1,908.6 824.1,888.1 826.6,873.2 828.1,862.2 835.6,798.1 846.1,705.1 849.1,680.6 852.1,658.6 855.6,637.1 858.6,623.2 860.6,616.4 862.1,612.8 863.6,610.5 864.6,609.7 865.1,609.5 866.1,609.6 867.1,610.6 868.1,612.3 869.1,614.8 871.1,622 873.6,634.8 875.6,647.6 877.6,662.1 887.6,744.2 892.6,780.4 894.6,791.4 898.1,807.9 899.6,814.2 901.6,820.9 907.6,837.8 910.6,845.1 913.1,849.5 922.6,863.6 925.6,867.3 932.1,874 939.1,882.7 948.1,891.8 956.1,900.5 961.6,905.8 980.6,921.1 984.6,923.9 988.6,926.3 1008.6,936.3 1013.6,938.6 1018.6,940.4 1027.6,942.4 1042.6,944.9 1063.1,947.6 1077.6,950.1 1088.1,952.1 1104.1,955.9 1117.6,958.8 1130.1,961.3 1139.1,962.6 1152.6,964.1 1169.6,965.5 1183.6,966.4 1193.1,966.7 1234.6,967.2 1280.6,967.3" fill="none" stroke="#b0b0b0" stroke-width="1.8" stroke-linejoin="round" stroke-linecap="round" stroke-dasharray="7 5" stroke-linecap="butt"/>
<path d="M687.6,994.9 716.1,994.3 743.6,993.1 751.1,992.3 760.6,991 772.6,989 778.6,987.7 783.1,986.3 787.1,984.5 790.6,982.3 793.6,979.9 796.6,976.8 799.6,972.8 802.1,968.7 804.6,963.8 807.1,958 809.1,952.6 811.6,944.7 813.6,937.6 817.6,920.7 821.6,900.1 826.1,872.6 830.6,840.6 835.1,805.1 846.6,709.3 850.1,682.7 853.1,662.4 856.6,642.7 858.6,633.6 860.1,628 862.1,622.2 863.6,619.1 865.1,617.2 866.1,616.6 866.6,616.5 867.1,616.6 868.1,617.8 869.1,620.2 870.1,623.6 872.1,633.5 874.1,646.5 877.6,674.3 887.6,763.1 893.1,808.5 896.1,831.2 899.1,852.1 902.1,871 905.1,887.9 908.1,902.7 911.1,915.5 914.1,926.4 917.6,936.8 921.1,945.1 924.6,951.6 928.1,956.5 930.1,958.8 932.1,960.7 935.6,963.3 939.6,965.4 944.1,967 949.1,968.1 954.6,968.8 961.1,969.3 988.6,970.4 1009.6,970.8 1037.6,970.9 1280.6,970.3" fill="none" stroke="#a52222" stroke-width="2.2" stroke-linejoin="round" stroke-linecap="round" />
<path d="M687.6,995 723.6,994.7 742.6,993.9 754.6,993 760.1,992.3 767.1,991 773.6,989.3 778.6,987.6 782.1,985.9 786.1,983.2 790.1,979.9 795.1,974.7 800.1,968.5 802.1,965.4 804.6,960.4 807.1,954.4 810.1,946.1 813.1,936.7 816.6,924.6 820.1,909.8 824.1,888.6 826.6,873.4 828.1,862.3 835.6,798.1 846.1,705.1 849.1,680.6 852.1,658.6 855.6,637.1 858.6,623.2 860.6,616.4 862.1,612.8 863.6,610.5 864.6,609.7 865.1,609.5 866.1,609.6 867.1,610.6 868.1,612.3 869.1,614.8 871.1,622 873.6,634.8 875.6,647.6 877.6,662.1 887.6,744.2 892.1,777 893.6,786.2 895.6,796.3 899.1,812.2 901.1,819.3 903.6,826.4 908.6,839 910.6,843.3 913.1,847.4 923.6,862 932.1,871.2 938.6,880 945.1,888.2 954.6,899 958.1,902.6 961.6,905.8 980.6,921.1 984.6,923.9 988.6,926.3 1008.6,936.3 1013.6,938.6 1018.6,940.4 1027.6,942.4 1042.6,944.9 1063.1,947.6 1077.6,950.1 1088.1,952.1 1104.1,955.9 1117.6,958.8 1130.1,961.3 1139.1,962.6 1152.6,964.1 1169.6,965.5 1183.6,966.4 1193.1,966.7 1234.6,967.2 1280.6,967.3" fill="none" stroke="#22205c" stroke-width="2.2" stroke-linejoin="round" stroke-linecap="round" />
<circle cx="864" cy="605.5" r="3" fill="none" stroke="#b8b8b8" stroke-width="1.2"/>
<rect x="686.3" y="565.2" width="596.3" height="456.1" fill="none" stroke="#1e1e1e" stroke-width="2.3"/>
<line x1="739.8" y1="1021.3" x2="739.8" y2="1030.8" stroke="#1e1e1e" stroke-width="2.2" />
<line x1="848.36" y1="1021.3" x2="848.36" y2="1030.8" stroke="#1e1e1e" stroke-width="2.2" />
<line x1="956.92" y1="1021.3" x2="956.92" y2="1030.8" stroke="#1e1e1e" stroke-width="2.2" />
<line x1="1065.48" y1="1021.3" x2="1065.48" y2="1030.8" stroke="#1e1e1e" stroke-width="2.2" />
<line x1="1174.04" y1="1021.3" x2="1174.04" y2="1030.8" stroke="#1e1e1e" stroke-width="2.2" />
<line x1="1282.6" y1="1021.3" x2="1282.6" y2="1030.8" stroke="#1e1e1e" stroke-width="2.2" />
<line x1="685.52" y1="1021.3" x2="685.52" y2="1027.3" stroke="#1e1e1e" stroke-width="2.2" />
<line x1="794.08" y1="1021.3" x2="794.08" y2="1027.3" stroke="#1e1e1e" stroke-width="2.2" />
<line x1="902.64" y1="1021.3" x2="902.64" y2="1027.3" stroke="#1e1e1e" stroke-width="2.2" />
<line x1="1011.2" y1="1021.3" x2="1011.2" y2="1027.3" stroke="#1e1e1e" stroke-width="2.2" />
<line x1="1119.76" y1="1021.3" x2="1119.76" y2="1027.3" stroke="#1e1e1e" stroke-width="2.2" />
<line x1="1228.32" y1="1021.3" x2="1228.32" y2="1027.3" stroke="#1e1e1e" stroke-width="2.2" />
<text transform="translate(739.8,1054) scale(1,1.08)" font-size="22.5" text-anchor="middle" fill="#1a1a1a" >282</text>
<text transform="translate(848.36,1054) scale(1,1.08)" font-size="22.5" text-anchor="middle" fill="#1a1a1a" >284</text>
<text transform="translate(956.92,1054) scale(1,1.08)" font-size="22.5" text-anchor="middle" fill="#1a1a1a" >286</text>
<text transform="translate(1065.48,1054) scale(1,1.08)" font-size="22.5" text-anchor="middle" fill="#1a1a1a" >288</text>
<text transform="translate(1174.04,1054) scale(1,1.08)" font-size="22.5" text-anchor="middle" fill="#1a1a1a" >290</text>
<text transform="translate(1282.6,1054) scale(1,1.08)" font-size="22.5" text-anchor="middle" fill="#1a1a1a" >292</text>
<text x="971.7" y="1081.4" font-size="25.7" text-anchor="middle" fill="#111" font-weight="bold" >Binding Enengy (eV)</text>
<text x="0" y="0" font-size="26.6" text-anchor="middle" fill="#111" font-weight="bold" transform="translate(679.3,820) rotate(-90)">Intensity (a.u)</text>
<text x="691" y="591.2" font-size="28" text-anchor="start" fill="#111" font-weight="bold" >(d)</text>
<line x1="1049.7" y1="568.9" x2="1282" y2="568.9" stroke="#1e1e1e" stroke-width="2" />
<line x1="1049.7" y1="592.8" x2="1282" y2="592.8" stroke="#1e1e1e" stroke-width="2" />
<line x1="1049.7" y1="710.9" x2="1282" y2="710.9" stroke="#1e1e1e" stroke-width="2" />
<text x="1107.3" y="586" font-size="19" text-anchor="middle" fill="#111" >Peaks</text>
<text x="1223.5" y="586" font-size="19" text-anchor="middle" fill="#111" >Areas(%)</text>
<text x="1107.3" y="610.2" font-size="19" text-anchor="middle" fill="#111" >C-C</text>
<text x="1223.5" y="610.2" font-size="19" text-anchor="middle" fill="#111" >64.5%</text>
<text x="1107.3" y="633.4" font-size="19" text-anchor="middle" fill="#111" >C-N</text>
<text x="1223.5" y="633.4" font-size="19" text-anchor="middle" fill="#111" >22.0%</text>
<text x="1107.3" y="656.6" font-size="19" text-anchor="middle" fill="#111" >C-O</text>
<text x="1223.5" y="656.6" font-size="19" text-anchor="middle" fill="#111" >5.2%</text>
<text x="1107.3" y="679.9" font-size="19" text-anchor="middle" fill="#111" >C=O</text>
<text x="1223.5" y="679.9" font-size="19" text-anchor="middle" fill="#111" >4.5%</text>
<text x="1107.3" y="704.1" font-size="19" text-anchor="middle" fill="#111" >O-C=O</text>
<text x="1223.5" y="704.1" font-size="19" text-anchor="middle" fill="#111" >3.8%</text>
<line x1="888.4" y1="788.5" x2="945.83" y2="753.56" stroke="#0a0a0a" stroke-width="2.4" />
<path d="M954.8,748.1 L946.25,758.1 L941.99,751.09 Z" fill="#0a0a0a"/>
<line x1="942.9" y1="924.3" x2="993.73" y2="867.05" stroke="#0a0a0a" stroke-width="2.4" />
<path d="M1000.7,859.2 L995.47,871.27 L989.33,865.83 Z" fill="#0a0a0a"/>
<line x1="988.8" y1="941.5" x2="1044.6" y2="892.71" stroke="#0a0a0a" stroke-width="2.4" />
<path d="M1052.5,885.8 L1045.79,897.11 L1040.39,890.94 Z" fill="#0a0a0a"/>
<line x1="1067.3" y1="952.5" x2="1108.97" y2="901.34" stroke="#0a0a0a" stroke-width="2.4" />
<path d="M1115.6,893.2 L1110.88,905.48 L1104.53,900.3 Z" fill="#0a0a0a"/>
<line x1="1123.6" y1="961.3" x2="1158.33" y2="919.11" stroke="#0a0a0a" stroke-width="2.4" />
<path d="M1165,911 L1160.22,923.26 L1153.89,918.05 Z" fill="#0a0a0a"/>
<text x="956.3" y="757" font-size="22.5" text-anchor="start" fill="#111" >C-C</text>
<text x="1003.6" y="864.5" font-size="22.5" text-anchor="start" fill="#111" >C-N</text>
<text x="1053.4" y="892.3" font-size="22.5" text-anchor="start" fill="#111" >C-O</text>
<text x="1119.1" y="901.2" font-size="22.5" text-anchor="start" fill="#111" >C=O</text>
<text x="1168" y="920.8" font-size="22.5" text-anchor="start" fill="#111" >O-C=O</text>
<path d="M48,1501.5 205,1501 300,1500.3 334,1499.8 455,1497.4 489,1496.9 576,1497 641,1497.5" fill="none" stroke="#2626f0" stroke-width="2.4" stroke-linejoin="round" stroke-linecap="round" />
<path d="M48,1501.3 158,1500.8 184,1500.5 195,1500 199,1499.5 202,1498.9 207,1497.3 212,1494.7 220,1489 223,1487.1 226,1485.9 228,1485.6 231,1485.9 234,1486.8 237,1488.3 247,1494.3 250,1495.7 253,1496.9 256,1497.8 260,1498.5 264,1498.9 269,1499.2 287,1499 366,1496.6 444,1494.8 478,1494.2 501,1494.1 566,1494.1 641,1494.6" fill="none" stroke="#8f8f1e" stroke-width="2.2" stroke-linejoin="round" stroke-linecap="round" />
<path d="M48,1501.5 191,1501 206,1500.5 212,1499.9 217,1499.2 222,1498 227,1496.3 232,1493.9 236,1491.5 240,1488.5 245,1484.1 249,1480.2 260,1468.7 263,1465.8 266,1463.3 269,1461.2 272,1459.6 275,1458.6 278,1458.2 281,1458.5 284,1459.3 287,1460.7 291,1463.3 297,1468.5 308,1479.5 313,1484.1 318,1488.2 323,1491.5 328,1494.1 333,1496 339,1497.5 345,1498.4 354,1499 368,1499 460,1497.3 497,1496.9 580,1497 641,1497.5" fill="none" stroke="#1f9a9a" stroke-width="2.2" stroke-linejoin="round" stroke-linecap="round" />
<path d="M48,1501.1 119.5,1500.6 179.5,1499.9 220.5,1499 233.5,1498.5 243,1497.9 250.5,1497.2 257,1496.2 262.5,1494.9 267.5,1493.3 272,1491.3 276,1489 280,1486 283.5,1482.7 287.5,1478.1 291,1473.1 294.5,1467.2 298,1460.1 301.5,1451.9 304.5,1443.8 308,1433.1 311,1422.7 314,1411.3 317.5,1396.7 324,1366 330.5,1331.6 345.5,1247.6 349.5,1227 353.5,1208.6 356,1198.5 358,1191.2 360.5,1183.4 362.5,1178.3 365,1173.2 367,1170.4 369,1168.7 370,1168.2 371,1168.1 373,1168.5 374,1169 375.5,1170.1 378,1173.2 380.5,1177.4 383,1182.9 385.5,1189.5 388,1197.2 391,1207.7 395.5,1225.5 400.5,1247.8 417.5,1330.3 424.5,1362.4 431.5,1391.3 435,1404.3 438.5,1416.2 441.5,1425.5 444.5,1434 447.5,1441.7 451,1449.8 454,1455.9 457.5,1462.2 461,1467.6 464.5,1472.3 468.5,1476.8 472.5,1480.4 476.5,1483.4 481,1486.1 486,1488.4 491.5,1490.2 497.5,1491.7 504,1492.8 510,1493.5 517.5,1494.1 536.5,1494.9 641,1496.7" fill="none" stroke="#2626f0" stroke-width="2.2" stroke-linejoin="round" stroke-linecap="round" />
<path d="M48,1502.3 49,1502.2 50,1503.3 51,1502.8 52,1504 54,1505.4 55,1503.7 56,1503.8 57,1502.4 59,1501 60,1501.7 61,1500.4 62,1500.7 63,1498.8 64,1499.2 66,1501.6 67,1501.6 68,1501.9 69,1501.6 70,1502.1 71,1501.8 72,1501.9 74,1503.9 75,1504.2 76,1504.4 77,1505.3 78,1505.7 79,1504.8 80,1505.8 81,1505.9 82,1505.1 83,1505.7 85,1504.4 86,1502.5 87,1502.7 88,1503.6 89,1501.2 90,1500 91,1502.2 92,1501 93,1501.8 94,1504 95,1504 96,1502.5 97,1502.5 98,1501.5 99,1502 100,1501.8 101,1501.3 103,1500.8 104,1499.8 106,1502.2 108,1501 109,1501 110,1500.5 111,1499.6 112,1500.9 113,1501.2 114,1502.4 116,1501.2 117,1500.9 118,1502.1 119,1501.9 120,1502.8 121,1503.1 123,1502.6 124,1501.4 126,1501.1 127,1501 129,1501.5 130,1502.3 133,1501.4 134,1501.3 136,1500.6 137,1500.9 138,1501.9 139,1500.6 140,1499.8 141,1500.1 142,1500 143,1498.8 145,1500.9 146,1501.3 147,1501.1 148,1501.8 150,1501.2 152,1501.2 153,1499.8 154,1497.8 155,1498.1 156,1498.8 157,1498.5 158,1498.9 159,1500.2 160,1500.9 161,1501.1 163,1500.6 164,1499.2 166,1499 167,1498.3 168,1499.1 169,1498.7 170,1499.1 171,1497.4 172,1499.2 174,1499.5 175,1498.8 176,1500.5 177,1500.8 178,1500.3 180,1501.6 181,1500.9 182,1502.4 184,1501.2 185,1500.4 186,1500.7 187,1499.4 188,1500.3 189,1500.2 191,1498.6 192,1498.6 193,1498 194,1496.6 195,1496 196,1497.2 197,1497 198,1498 200,1498.6 201,1497.8 204,1497 206,1496.9 207,1496.3 208,1494.9 209,1494.9 211,1492.8 212,1492.2 213,1491.9 215,1490.1 218,1488.1 219,1486.8 221,1485 223,1482.6 225,1481.4 226,1480 228,1478.3 229,1477.7 232,1477.2 233,1477.5 234,1477.1 235,1477.2 239,1478.4 240,1478 241,1478.2 243,1476.8 244,1475.8 245,1475.9 246,1475.1 247,1475 249,1474.4 250,1473.3 252,1472.2 255,1469.5 256,1468.2 257,1466.2 259,1463.6 260,1461.6 261,1460.5 263,1459.2 264,1457.8 265,1457.3 266,1456.5 268,1453.4 269,1452.2 271,1450.2 273,1448.6 276,1445.5 277,1445 278,1443.9 279,1443.6 281,1441.9 282,1441.3 283,1441.1 284,1439.9 285,1439.1 286,1439 287,1438 288,1437.6 289,1437.5 290,1437.1 291,1436.4 292,1436 294,1434.1 295,1432.5 297,1430.6 299,1427.8 300,1427.3 302,1423.6 303,1422.6 305,1418.6 306,1417.5 308,1412.7 309,1410.7 313,1399.3 315,1393.1 322,1367.2 326,1349.5 331,1324.9 335,1302.9 337,1293.1 342,1264.6 347,1238.6 356,1197.3 358,1190.2 360,1184.6 362,1179.4 364,1175.2 367,1170.2 368,1169.1 370,1167.8 371,1167.7 372,1163.9 373,1163.6 374,1163.6 375,1163.8 376,1164.9 378,1168.6 380,1173.3 382,1175.5 384,1179.3 388,1189.2 391,1199 394,1210.3 399,1231.7 406,1263.3 415,1308.8 427,1364.4 431,1381.2 434,1391.7 438,1404.6 442,1420.3 443,1423 446,1433 447,1435.4 448,1438.7 449,1439.2 451,1444.2 453,1448.2 454,1451.6 456,1452.8 457,1455.2 458,1456.7 459,1457.4 461,1462.7 463,1467.4 464,1470.4 465,1472.3 467,1473.4 468,1473.7 469,1473.4 470,1473.8 472,1477.1 476,1480.1 477,1480.4 478,1481.9 481,1484.8 482,1485.5 483,1485.7 484,1486.5 485,1485.2 486,1484.9 487,1485.4 488,1485.4 489,1486 490,1487.9 492,1488.2 493,1489.2 495,1490.1 496,1491.1 497,1491 498,1491.3 499,1491.3 502,1492.2 503,1491.7 504,1491.7 506,1490.4 509,1491.9 510,1492.7 511,1493.1 512,1494.5 513,1494.7 514,1495.4 515,1495.2 516,1496.1 517,1493.7 519,1493.1 520,1493.5 521,1494.2 523,1496.8 525,1497.4 526,1496.5 528,1495.9 529,1494.9 530,1495.1 531,1494.3 532,1494.6 533,1495.5 534,1496 535,1495.4 536,1496.6 537,1496.5 538,1494.9 540,1495.6 542,1494.9 543,1496.3 544,1497.1 546,1496.6 547,1496.8 548,1496.7 549,1495.4 550,1495.8 553,1495 554,1496.1 555,1495.7 556,1495.6 557,1496.5 559,1495.5 561,1497.4 562,1496.7 563,1497.9 565,1497.4 566,1496.5 567,1496.8 568,1494.6 569,1495.6 570,1495.9 571,1495.6 572,1494.9 573,1494.9 574,1494.6 575,1493.7 578,1495.8 579,1494.6 580,1494.9 581,1494.1 583,1494.5 584,1495.4 585,1495.3 587,1495.7 588,1495.3 591,1496.9 593,1496.5 594,1495.1 595,1494.6 596,1494.8 598,1496 599,1497.7 601,1497.4 602,1498.6 604,1495.9 605,1496.4 606,1496.5 607,1495.2 608,1496.1 609,1496.6 610,1496.6 611,1496.9 612,1495.7 614,1495.2 615,1494.6 616,1493.7 617,1495 619,1495.5 621,1497.3 622,1497.2 623,1497.5 624,1496.4 625,1496 626,1496.1 627,1495.6 628,1495.6 629,1496.8 630,1496.4 631,1496.5 632,1497.8 634,1497.2 636,1498.2 637,1497.3 638,1498.1 639,1497.7 640,1497.8 641,1497" fill="none" stroke="#141414" stroke-width="2.4" stroke-linejoin="round" stroke-linecap="round" />
<path d="M48,1503.3 48.5,1503.3 49,1502.7 50.5,1503 51,1502.3 51.5,1502.3 52,1502.7 53.5,1502.4 54,1503.5 54.5,1503.5 55,1502.8 56.5,1503.2 57,1502.8 58,1502.6 59.5,1502.7 60,1503.1 60.5,1503.1 61,1502.4 61.5,1502.4 62,1501.7 62.5,1501.7 63,1500.7 63.5,1500.7 64,1501.2 64.5,1501.1 65,1501.6 66.5,1501.9 67,1502.2 69.5,1502.8 70,1503.2 70.5,1503.1 71,1504 71.5,1504 72,1505.1 72.5,1505.1 73,1504.7 73.5,1504.7 74,1503.5 74.5,1503.5 75,1504 75.5,1504 76,1503.6 78.5,1503.8 79,1503.1 79.5,1503.1 80,1504 81.5,1503.9 82,1504.2 82.5,1504.2 83,1504.9 83.5,1504.9 84,1504 84.5,1504 85,1503.4 85.5,1503.4 86,1502.9 86.5,1502.9 87,1502.6 87.5,1502.6 88,1503.7 88.5,1503.7 89,1502.9 89.5,1502.9 90,1502 90.5,1502 91,1502.6 91.5,1502.6 92,1501.8 92.5,1501.8 93,1502.1 93.5,1502.1 94,1503.1 95.5,1503 96,1501.9 96.5,1501.9 97,1500.9 98.5,1500.7 99,1500.9 100.5,1501 101.5,1500.9 102,1500.5 103,1500.2 105.5,1500.5 106,1500.8 106.5,1500.8 107,1501.1 108.5,1501.2 109,1500.8 111.5,1500.9 112,1501.2 113.5,1501.3 114,1501.7 115,1501.9 115.5,1501.9 116,1501.4 120,1501.7 121,1501.5 123.5,1501.5 124,1500.9 125.5,1500.8 126,1500.3 128.5,1500.5 132,1500 132.5,1500 133,1500.3 134.5,1500.5 135,1500.7 136.5,1500.7 138.5,1500.4 140,1500.7 141.5,1500.7 142.5,1500.6 143,1500.3 144.5,1500.2 145.5,1500.3 146,1500.7 146.5,1500.7 147,1501 147.5,1501 148,1500.6 148.5,1500.5 149,1499.9 151,1500.2 153.5,1500.1 154,1499.8 154.5,1499.8 155,1500 157.5,1500.4 158,1500.7 158.5,1500.7 159,1500.1 163.5,1500 164,1499.2 165.5,1499.2 166,1499.4 167,1499.2 168.5,1499.2 169.5,1499.4 170,1499.8 171.5,1499.5 172,1499.7 173.5,1499.8 174,1499.3 174.5,1499.3 175,1498.9 175.5,1498.9 176,1499.3 176.5,1499.3 177,1499.7 178,1499.8 179,1499.6 183.5,1499.7 185,1499.3 186.5,1499.4 187.5,1499.2 188,1499.4 191.5,1499.3 193,1499.5 193.5,1499.4 194,1499 194.5,1498.9 195,1498.4 198,1497.5 198.5,1497.4 199,1497.6 199.5,1497.5 200,1498 202,1497.5 206.5,1495.8 211,1493.1 215,1489.9 223.5,1482.1 225.5,1480.5 227.5,1479.3 229.5,1478.3 232,1477.5 240,1475.8 243.5,1474.8 247,1473.2 250,1471.4 253,1469 256,1466.3 268,1453.8 273.5,1448.6 278.5,1444.6 290.5,1436.3 293.5,1433.8 296,1431.4 299,1427.9 302,1423.6 304.5,1419.4 307,1414.4 309.5,1408.6 312,1402 314.5,1394.5 317,1386.1 322,1366.7 327.5,1341.8 333,1313.8 347,1238.6 351,1219.2 354.5,1204 357,1194.4 359,1187.7 361,1181.8 363,1176.9 365,1173.1 367,1170.3 369,1168.6 370,1168.1 371,1168 373,1168.4 374,1168.9 375.5,1170.1 378,1173.1 380.5,1177.4 383,1182.9 385.5,1189.5 388,1197.2 391,1207.7 395.5,1225.5 400.5,1247.7 417.5,1330.2 424.5,1362.4 431.5,1391.3 435,1404.3 438.5,1416.1 441.5,1425.5 444.5,1434 447.5,1441.7 451,1449.8 454,1455.9 457.5,1462.2 461,1467.6 464.5,1472.3 467,1475.2 470,1478.2 470.5,1478.1 471,1478.2 472.5,1479.7 473,1480.6 474,1481.7 477.5,1484.2 478,1484.9 478.5,1485.2 479,1485 480.5,1485.7 481,1485.7 481.5,1486 482,1485.9 483,1486.2 484,1486.9 487.5,1488.2 488,1488.7 490,1489.6 491.5,1489.9 492.5,1490.4 493,1490.9 493.5,1491.1 495.5,1491.5 496,1491.3 496.5,1491.4 497,1491.2 498,1491.2 499.5,1491.6 500,1492.1 501.5,1492.3 502,1491.9 503,1491.8 505,1492.4 509.5,1492.8 511.5,1493.3 512,1493.5 514.5,1493.8 515,1494.4 518.5,1494.6 519.5,1494.5 520,1494.7 522.5,1494.9 523.5,1494.9 524,1494.3 525.5,1494.4 526,1494.9 529.5,1495 531,1495.3 532.5,1495.3 533.5,1495.6 534,1495.9 534.5,1495.9 535,1495.5 535.5,1495.5 536,1495.2 537.5,1495.1 538,1494.8 539.5,1494.9 540,1494.6 541,1494.5 542.5,1494.5 544.5,1494.7 545,1495 548.5,1495.3 549,1495.7 550.5,1495.6 551,1495.9 551.5,1495.9 552,1495.7 553.5,1495.6 554,1496.1 555.5,1496 556,1496.3 557.5,1496.4 558,1496 558.5,1496 559,1496.4 561.5,1496.3 562,1495.9 562.5,1495.9 563,1495.5 564.5,1495.5 565,1495 567.5,1495.3 570,1494.9 570.5,1494.9 571,1495.2 574.5,1495.5 575,1495.2 576,1495 579.5,1495.3 583.5,1495.1 584,1495.6 585,1495.8 587.5,1495.7 588.5,1496 589,1496.4 590.5,1496.6 591,1496.3 592.5,1496.5 593,1496.1 596.5,1495.8 597,1495.4 599.5,1495.1 600.5,1495.3 601,1495.9 602,1496.1 603.5,1496.1 605,1496.6 608,1497 609.5,1496.9 610,1496.4 610.5,1496.4 611,1496.1 611.5,1496.1 612,1496.5 613,1496.6 613.5,1496.6 614,1496.3 615.5,1496.3 616,1496 618.5,1496.3 619,1496.6 620.5,1496.6 621,1496.1 622.5,1496 623,1496.3 624.5,1496.5 627.5,1496.2 628,1495.9 629.5,1496 630,1496.4 630.5,1496.4 631.5,1496.2 632,1495.9 632.5,1495.9 633,1495.4 636.5,1495.8 638,1495.4 639.5,1495.4 640,1495.9 640.5,1495.9 641,1496.4" fill="none" stroke="#9e1a55" stroke-width="2.2" stroke-linejoin="round" stroke-linecap="round" />
<rect x="46.7" y="1104.1" width="595.5" height="455.5" fill="none" stroke="#1e1e1e" stroke-width="2.3"/>
<line x1="96.3" y1="1559.6" x2="96.3" y2="1569.1" stroke="#1e1e1e" stroke-width="2.2" />
<line x1="195.72" y1="1559.6" x2="195.72" y2="1569.1" stroke="#1e1e1e" stroke-width="2.2" />
<line x1="295.14" y1="1559.6" x2="295.14" y2="1569.1" stroke="#1e1e1e" stroke-width="2.2" />
<line x1="394.56" y1="1559.6" x2="394.56" y2="1569.1" stroke="#1e1e1e" stroke-width="2.2" />
<line x1="493.98" y1="1559.6" x2="493.98" y2="1569.1" stroke="#1e1e1e" stroke-width="2.2" />
<line x1="593.4" y1="1559.6" x2="593.4" y2="1569.1" stroke="#1e1e1e" stroke-width="2.2" />
<line x1="46.59" y1="1559.6" x2="46.59" y2="1565.6" stroke="#1e1e1e" stroke-width="2.2" />
<line x1="146.01" y1="1559.6" x2="146.01" y2="1565.6" stroke="#1e1e1e" stroke-width="2.2" />
<line x1="245.43" y1="1559.6" x2="245.43" y2="1565.6" stroke="#1e1e1e" stroke-width="2.2" />
<line x1="344.85" y1="1559.6" x2="344.85" y2="1565.6" stroke="#1e1e1e" stroke-width="2.2" />
<line x1="444.27" y1="1559.6" x2="444.27" y2="1565.6" stroke="#1e1e1e" stroke-width="2.2" />
<line x1="543.69" y1="1559.6" x2="543.69" y2="1565.6" stroke="#1e1e1e" stroke-width="2.2" />
<line x1="643.11" y1="1559.6" x2="643.11" y2="1565.6" stroke="#1e1e1e" stroke-width="2.2" />
<text transform="translate(96.3,1592.5) scale(1,1.08)" font-size="22.5" text-anchor="middle" fill="#1a1a1a" >396</text>
<text transform="translate(195.72,1592.5) scale(1,1.08)" font-size="22.5" text-anchor="middle" fill="#1a1a1a" >398</text>
<text transform="translate(295.14,1592.5) scale(1,1.08)" font-size="22.5" text-anchor="middle" fill="#1a1a1a" >400</text>
<text transform="translate(394.56,1592.5) scale(1,1.08)" font-size="22.5" text-anchor="middle" fill="#1a1a1a" >402</text>
<text transform="translate(493.98,1592.5) scale(1,1.08)" font-size="22.5" text-anchor="middle" fill="#1a1a1a" >404</text>
<text transform="translate(593.4,1592.5) scale(1,1.08)" font-size="22.5" text-anchor="middle" fill="#1a1a1a" >406</text>
<text x="367.9" y="1620.8" font-size="25.7" text-anchor="middle" fill="#111" font-weight="bold" >Binding Enengy (eV)</text>
<text x="0" y="0" font-size="26.6" text-anchor="middle" fill="#111" font-weight="bold" transform="translate(41.8,1347.5) rotate(-90)">Intensity (a.u)</text>
<text x="46.5" y="1130.1" font-size="28" text-anchor="start" fill="#111" font-weight="bold" >(e)</text>
<line x1="439.2" y1="1104.8" x2="642" y2="1104.8" stroke="#1e1e1e" stroke-width="3" />
<line x1="439.2" y1="1125.6" x2="641" y2="1125.6" stroke="#1e1e1e" stroke-width="2" />
<line x1="439.2" y1="1187.7" x2="641" y2="1187.7" stroke="#1e1e1e" stroke-width="2" />
<text x="490.7" y="1120.1" font-size="16.5" text-anchor="middle" fill="#111" >Peaks</text>
<text x="592.5" y="1120.1" font-size="16.5" text-anchor="middle" fill="#111" >Areas(%)</text>
<text x="490.1" y="1140.4" font-size="16.5" text-anchor="middle" fill="#111" >-N=</text>
<text x="591.7" y="1140.4" font-size="16.5" text-anchor="middle" fill="#111" >6.6%</text>
<text x="490" y="1161" font-size="16.5" text-anchor="middle" fill="#111" >N<tspan font-size="10" dy="-6">+</tspan></text>
<text x="591.7" y="1161" font-size="16.5" text-anchor="middle" fill="#111" >80.2%</text>
<text x="491" y="1181.9" font-size="16.5" text-anchor="middle" fill="#111" >-NH-</text>
<text x="591.7" y="1181.9" font-size="16.5" text-anchor="middle" fill="#111" >13.2%</text>
<line x1="333.8" y1="1313.7" x2="276.86" y2="1264.75" stroke="#0a0a0a" stroke-width="2.4" />
<path d="M268.9,1257.9 L281.05,1262.94 L275.71,1269.16 Z" fill="#0a0a0a"/>
<line x1="259.9" y1="1465" x2="219.93" y2="1425.12" stroke="#0a0a0a" stroke-width="2.4" />
<path d="M212.5,1417.7 L224.24,1423.63 L218.45,1429.43 Z" fill="#0a0a0a"/>
<line x1="216.1" y1="1492.2" x2="183.61" y2="1461.33" stroke="#0a0a0a" stroke-width="2.4" />
<path d="M176,1454.1 L187.89,1459.74 L182.24,1465.68 Z" fill="#0a0a0a"/>
<text x="229" y="1265.8" font-size="22.5" text-anchor="start" fill="#111" >-N<tspan font-size="11" font-weight="bold" dy="-10">+</tspan><tspan dy="10" dx="0.5">-</tspan></text>
<text x="183.7" y="1413.9" font-size="22.5" text-anchor="start" fill="#111" >-NH-</text>
<text x="147.4" y="1450" font-size="22.5" text-anchor="start" fill="#111" >-N=</text>
<path d="M690.4,1510.7 814.4,1510.7 839.4,1510.1 882.4,1508.6 907.4,1507.4 935.4,1505.7 993.4,1500.9 1048.4,1496.8 1083.4,1495 1110.4,1493.9 1131.4,1493.6 1283.4,1493.6" fill="none" stroke="#2626f0" stroke-width="2.4" stroke-linejoin="round" stroke-linecap="round" />
<path d="M690.4,1510.5 730.4,1510.1 751.4,1509.6 762.4,1509.1 767.4,1508.3 773.4,1506.6 782.4,1503.5 788.4,1500.8 792.4,1498.6 796.4,1496.1 799.4,1493.8 803.4,1490.4 807.4,1486.8 811.4,1482.6 818.4,1474.4 824.4,1466.3 828.4,1459.9 831.4,1453.8 835.4,1443.8 837.4,1439.4 840.4,1434.4 843.4,1430.3 845.4,1428.4 849.4,1426.3 852.4,1425.2 855.4,1424.8 857.4,1425.2 859.4,1426.1 865.4,1430.3 868.4,1433.5 874.4,1441.7 876.4,1444.1 885.4,1453.3 890.4,1457.9 895.4,1462.1 899.4,1465 904.4,1468.2 909.4,1471.1 914.4,1473.7 919.4,1476 923.4,1477.5 931.4,1480 939.4,1482.1 947.4,1483.9 955.4,1485.4 971.4,1487.5 987.4,1489 999.4,1489.7 1021.4,1490.3 1125.4,1491.7 1215.4,1492.3 1283.4,1492.5" fill="none" stroke="#8f8f1e" stroke-width="2.4" stroke-linejoin="round" stroke-linecap="round" />
<path d="M690.4,1510.7 801.9,1510.7 820.4,1510.3 830.4,1509.4 834.4,1508.7 837.9,1507.9 841.4,1506.8 844.4,1505.5 847.4,1503.9 849.9,1502.3 852.9,1499.9 855.4,1497.5 857.9,1494.6 860.4,1491.3 862.9,1487.5 865.4,1483.1 869.9,1473.7 874.9,1460.9 879.9,1445.9 884.9,1429 896.9,1385.8 900.4,1374.4 903.4,1365.6 906.9,1357 908.9,1353 910.4,1350.5 912.4,1347.9 913.9,1346.5 915.9,1345.3 917.4,1345 918.9,1345.1 920.4,1345.6 921.9,1346.3 923.9,1347.9 925.4,1349.4 927.4,1351.8 930.9,1357.1 933.9,1362.6 937.4,1369.7 951.9,1402.1 959.4,1417.7 963.4,1425.1 966.9,1431.2 970.9,1437.5 974.9,1443.1 978.9,1448.2 983.4,1453.2 987.9,1457.6 992.4,1461.4 997.4,1465 1002.4,1468.1 1007.4,1470.7 1012.9,1473.1 1018.9,1475.3 1025.4,1477.2 1032.4,1478.9 1039.9,1480.4 1048.9,1481.8 1058.9,1483 1069.9,1484.2 1080.9,1485 1144.4,1488.2 1175.4,1489.4 1223.4,1490.6 1283.4,1491.5" fill="none" stroke="#1f9a9a" stroke-width="2.2" stroke-linejoin="round" stroke-linecap="round" />
<path d="M690.4,1510.7 815.4,1510.6 846.4,1509.9 870.4,1508.6 878.4,1507.8 884.9,1506.9 890.9,1505.5 895.9,1504 900.9,1501.9 905.4,1499.4 909.4,1496.6 913.4,1493.1 917.4,1488.8 920.9,1484.3 924.4,1478.9 927.9,1472.7 931.4,1465.5 934.9,1457.3 938.4,1447.9 941.4,1439 944.4,1429.3 947.9,1416.9 951.4,1403.4 954.9,1388.9 961.9,1357.5 978.4,1279.2 982.9,1259.6 987.4,1242.2 989.9,1233.6 992.4,1226 994.9,1219.4 997.4,1213.9 999.9,1209.6 1002.4,1206.5 1003.9,1205.3 1004.9,1204.7 1006.9,1204.2 1008.9,1204.5 1009.9,1205 1011.4,1206.2 1013.4,1208.5 1015.9,1212.6 1017.9,1216.8 1020.4,1223.1 1022.9,1230.4 1025.4,1238.8 1029.4,1253.9 1033.9,1272.9 1049.9,1347 1056.4,1375.5 1059.9,1389.7 1063.4,1403 1066.9,1415.2 1069.9,1424.7 1072.9,1433.4 1075.9,1441.3 1078.9,1448.4 1081.9,1454.6 1084.9,1460.2 1088.4,1465.8 1091.9,1470.5 1095.4,1474.5 1098.9,1477.8 1102.9,1480.9 1106.9,1483.4 1111.4,1485.5 1115.9,1487.1 1121.4,1488.5 1127.4,1489.6 1134.9,1490.5 1150.9,1491.5 1176.4,1492.1 1221.4,1492.7 1283.4,1493" fill="none" stroke="#2626f0" stroke-width="2.4" stroke-linejoin="round" stroke-linecap="round" />
<path d="M690.4,1505.8 691.9,1502.1 693.4,1499.5 694.9,1498.1 695.9,1498.1 697.4,1499.2 700.4,1503.5 701.9,1505 702.4,1505.2 703.4,1505.2 708.4,1504 708.9,1504 709.4,1504.5 710.4,1506.4 712.9,1513.5 713.9,1515.4 714.4,1515.9 714.9,1515.9 715.9,1515.1 716.9,1513.6 719.9,1508 720.9,1506.8 721.9,1506.4 726.4,1506.9 733.9,1508.9 736.4,1509.8 741.9,1512.6 744.9,1513.5 746.9,1513.4 749.4,1512.9 764.9,1507.3 766.9,1506.7 768.9,1506.4 772.4,1506.6 776.9,1507.7 777.9,1508.4 779.9,1510.4 780.9,1511 781.4,1511.1 781.9,1510.9 782.9,1509.4 783.9,1506.8 786.9,1497.3 787.9,1495.1 788.4,1494.5 790.4,1493.2 792.9,1492.2 795.4,1491.8 801.4,1491.2 802.9,1490.9 803.4,1490.6 804.9,1488.3 808.9,1479.2 809.9,1477.9 812.4,1476.1 813.9,1475.5 815.4,1475.5 818.4,1477.5 819.4,1477.8 820.4,1477.6 821.4,1476.7 822.9,1474.7 824.4,1471.8 829.9,1459.2 831.4,1455 835.9,1440.8 837.9,1436 838.9,1434.4 840.4,1432.7 844.4,1429.7 845.9,1428.3 847.4,1426.5 848.4,1424.6 849.4,1420.5 850.9,1412.2 851.9,1407.9 853.4,1404.8 858.9,1396.8 860.9,1393.2 865.9,1376 867.4,1371.7 868.4,1369.4 870.4,1365.6 878.9,1351.7 881.4,1347.1 886.9,1333.3 891.4,1322.8 892.4,1321.6 894.9,1320.6 895.9,1319.7 896.9,1316.5 900.9,1297.2 901.9,1293.4 902.4,1292.3 902.9,1291.9 904.4,1291.2 907.9,1290.3 912.9,1288.5 918.4,1286.8 919.9,1285.8 923.9,1281.5 925.4,1280.7 928.9,1280.1 932.4,1279.9 933.9,1280.2 936.9,1281.5 938.4,1281.4 939.9,1280.5 942.9,1277.6 944.4,1276.5 948.9,1275 950.9,1274 952.9,1272 956.9,1267.3 958.9,1264.3 960.4,1260.6 961.9,1249 962.4,1248.1 963.4,1247.4 966.4,1246.4 967.4,1245.8 969.4,1243.6 972.4,1238.7 975.9,1230.4 977.4,1226.2 978.9,1221.3 983.9,1202 987.9,1188.1 995.4,1164 996.4,1161.3 997.4,1159.8 997.9,1159.7 998.9,1160.4 1000.4,1162.6 1003.4,1168.1 1004.4,1169.2 1005.4,1169.6 1006.4,1169 1007.4,1167.5 1010.4,1161.1 1011.4,1159.4 1012.4,1158.3 1012.9,1158.2 1013.4,1158.4 1014.4,1160 1017.9,1169.8 1023.9,1182.7 1025.9,1188.4 1027.9,1195.7 1030.4,1207 1034.4,1232.2 1039.9,1261.5 1055.4,1334.2 1057.9,1344.6 1059.4,1349.4 1063.9,1361.7 1068.4,1379.6 1069.9,1384.7 1071.4,1388.4 1074.9,1395.3 1076.4,1399.2 1080.4,1415.1 1081.4,1418.5 1082.4,1420.8 1083.9,1423.6 1089.4,1431.1 1093.4,1437.1 1095.4,1440.7 1096.4,1443.1 1096.9,1444.9 1099.4,1456.5 1100.4,1459.4 1100.9,1460 1101.4,1460 1102.4,1459.6 1104.9,1458.2 1105.9,1458 1106.4,1458.2 1106.9,1458.7 1107.9,1460.8 1110.4,1467.9 1111.4,1469.7 1111.9,1470 1112.4,1469.9 1113.4,1469 1116.9,1463.6 1117.9,1463 1118.9,1463.4 1120.4,1465.3 1122.4,1468.8 1124.9,1476.5 1125.4,1477.5 1125.9,1478 1127.4,1477.7 1130.4,1476.4 1131.9,1476 1133.4,1476.4 1136.4,1478.5 1137.9,1479 1139.9,1478.7 1143.9,1477.3 1145.9,1477 1146.4,1477.1 1147.4,1478 1150.4,1482.8 1151.4,1483.8 1151.9,1484 1153.9,1483.9 1158.4,1483.1 1160.4,1483 1162.4,1483.3 1167.4,1484.7 1169.4,1485 1170.4,1485 1171.9,1484.5 1177.4,1480.8 1179.4,1480.1 1180.9,1480.1 1184.4,1481.6 1185.9,1482 1187.4,1481.9 1191.4,1481 1193.4,1481.2 1196.4,1482.2 1200.9,1484.4 1206.4,1488.3 1211.9,1492.9 1216.4,1495.7 1217.9,1496.4 1219.4,1496.8 1220.9,1496.8 1221.9,1496.2 1222.9,1495.4 1227.4,1490.3 1231.4,1484.1 1232.9,1482.1 1234.4,1480.8 1235.4,1480.4 1236.4,1480.5 1237.9,1481.3 1247.4,1489.6 1252.4,1492.9 1254.9,1493.9 1255.9,1494 1256.9,1493.6 1257.9,1492.6 1260.4,1489.1 1261.4,1488.2 1261.9,1488 1262.4,1488.1 1263.4,1488.8 1266.4,1492.9 1267.4,1493.8 1267.9,1494 1268.9,1493.9 1269.9,1493.4 1273.9,1490.7 1275.4,1490.1 1277.4,1490 1279.9,1490.4 1281.9,1490.9 1283.4,1491.6" fill="none" stroke="#141414" stroke-width="2.2" stroke-linejoin="round" stroke-linecap="round" />
<path d="M690.4,1508.8 700.4,1508.6 711.9,1508 726.9,1507 739.4,1505.8 747.4,1504.7 755.4,1503.3 763.9,1501.5 772.4,1499.4 781.4,1496.8 785.4,1495.5 790.9,1493.1 796.4,1490.3 802.4,1486.7 807.9,1482.9 812.4,1479.1 816.4,1474.9 819.4,1471.4 822.4,1467.5 825.9,1461.6 828.9,1455.6 836.9,1438.1 843.9,1422 845.9,1418.2 849.4,1412.5 853.9,1406.1 858.4,1401 861.4,1398.4 867.9,1393.8 871.4,1390.5 873.9,1387.2 876.9,1382 881.9,1370.9 884.4,1364.7 886.4,1359 893.9,1333.2 897.9,1317.4 899.9,1310.7 901.4,1306.9 903.9,1301.5 907.4,1295.3 909.9,1292.3 914.9,1287.9 918.4,1285.4 920.4,1284.4 921.9,1283.9 923.9,1283.5 925.9,1283.5 934.4,1284.5 942.9,1284.9 944.9,1284.8 946.9,1284.1 950.4,1282.1 955.4,1278 957.4,1275.8 959.4,1272.7 962.9,1266.2 968.4,1255 971.9,1246.7 974.9,1238.4 977.9,1228 984.9,1200.2 989.4,1184.2 991.9,1176.4 992.9,1174 995.4,1169 998.4,1163.7 1000.4,1161.3 1001.4,1160.7 1002.4,1160.5 1004.9,1161 1007.4,1162.2 1011.4,1165.1 1012.9,1166.7 1014.9,1169.9 1016.9,1173.9 1020.4,1182.3 1022.4,1187.8 1024.9,1196.3 1028.9,1211.4 1033.4,1230.4 1035.9,1243.4 1040.9,1273.5 1043.9,1289 1045.9,1298.3 1047.9,1306.3 1052.9,1324 1062.4,1362.5 1068.4,1384.4 1072.4,1398.2 1075.4,1407.4 1079.4,1418.1 1083.4,1428.1 1086.9,1436.1 1090.4,1443 1093.4,1447.9 1096.4,1451.6 1101.4,1457.1 1106.9,1462.2 1112.4,1466.5 1117.9,1469.9 1125.4,1473.6 1133.9,1477 1142.4,1479.8 1150.9,1481.9 1160.9,1483.8 1172.4,1485.5 1183.9,1486.9 1195.4,1487.9 1223.4,1489.7 1245.4,1490.9 1265.4,1491.6 1283.4,1491.8" fill="none" stroke="#9e1a55" stroke-width="2.2" stroke-linejoin="round" stroke-linecap="round" />
<rect x="688.8" y="1105.5" width="596" height="456.4" fill="none" stroke="#1e1e1e" stroke-width="2.3"/>
<line x1="738.3" y1="1561.9" x2="738.3" y2="1571.4" stroke="#1e1e1e" stroke-width="2.2" />
<line x1="837.58" y1="1561.9" x2="837.58" y2="1571.4" stroke="#1e1e1e" stroke-width="2.2" />
<line x1="936.86" y1="1561.9" x2="936.86" y2="1571.4" stroke="#1e1e1e" stroke-width="2.2" />
<line x1="1036.14" y1="1561.9" x2="1036.14" y2="1571.4" stroke="#1e1e1e" stroke-width="2.2" />
<line x1="1135.42" y1="1561.9" x2="1135.42" y2="1571.4" stroke="#1e1e1e" stroke-width="2.2" />
<line x1="1234.7" y1="1561.9" x2="1234.7" y2="1571.4" stroke="#1e1e1e" stroke-width="2.2" />
<line x1="688.66" y1="1561.9" x2="688.66" y2="1567.9" stroke="#1e1e1e" stroke-width="2.2" />
<line x1="787.94" y1="1561.9" x2="787.94" y2="1567.9" stroke="#1e1e1e" stroke-width="2.2" />
<line x1="887.22" y1="1561.9" x2="887.22" y2="1567.9" stroke="#1e1e1e" stroke-width="2.2" />
<line x1="986.5" y1="1561.9" x2="986.5" y2="1567.9" stroke="#1e1e1e" stroke-width="2.2" />
<line x1="1085.78" y1="1561.9" x2="1085.78" y2="1567.9" stroke="#1e1e1e" stroke-width="2.2" />
<line x1="1185.06" y1="1561.9" x2="1185.06" y2="1567.9" stroke="#1e1e1e" stroke-width="2.2" />
<line x1="1284.34" y1="1561.9" x2="1284.34" y2="1567.9" stroke="#1e1e1e" stroke-width="2.2" />
<text transform="translate(738.3,1594.9) scale(1,1.08)" font-size="22.5" text-anchor="middle" fill="#1a1a1a" >396</text>
<text transform="translate(837.58,1594.9) scale(1,1.08)" font-size="22.5" text-anchor="middle" fill="#1a1a1a" >398</text>
<text transform="translate(936.86,1594.9) scale(1,1.08)" font-size="22.5" text-anchor="middle" fill="#1a1a1a" >400</text>
<text transform="translate(1036.14,1594.9) scale(1,1.08)" font-size="22.5" text-anchor="middle" fill="#1a1a1a" >402</text>
<text transform="translate(1135.42,1594.9) scale(1,1.08)" font-size="22.5" text-anchor="middle" fill="#1a1a1a" >404</text>
<text transform="translate(1234.7,1594.9) scale(1,1.08)" font-size="22.5" text-anchor="middle" fill="#1a1a1a" >406</text>
<text x="1011.7" y="1619.8" font-size="25.7" text-anchor="middle" fill="#111" font-weight="bold" >Binding Enengy (eV)</text>
<text x="0" y="0" font-size="26.6" text-anchor="middle" fill="#111" font-weight="bold" transform="translate(681.5,1358.9) rotate(-90)">Intensity (a.u)</text>
<text x="693" y="1134.6" font-size="28" text-anchor="start" fill="#111" font-weight="bold" >(f)</text>
<line x1="1090" y1="1105.9" x2="1284" y2="1105.9" stroke="#1e1e1e" stroke-width="3" />
<line x1="1090" y1="1125.4" x2="1280.5" y2="1125.4" stroke="#1e1e1e" stroke-width="2" />
<line x1="1090" y1="1186" x2="1280.5" y2="1186" stroke="#1e1e1e" stroke-width="2" />
<text x="1139.9" y="1120.1" font-size="16.5" text-anchor="middle" fill="#111" >Peaks</text>
<text x="1236" y="1120.1" font-size="16.5" text-anchor="middle" fill="#111" >Areas(%)</text>
<text x="1139.8" y="1140.1" font-size="16.5" text-anchor="middle" fill="#111" >-N=</text>
<text x="1235.8" y="1140.1" font-size="16.5" text-anchor="middle" fill="#111" >18.2%</text>
<text x="1139.8" y="1160.2" font-size="16.5" text-anchor="middle" fill="#111" >N<tspan font-size="10" dy="-6">+</tspan></text>
<text x="1235.8" y="1160.2" font-size="16.5" text-anchor="middle" fill="#111" >51.5%</text>
<text x="1139.8" y="1180.2" font-size="16.5" text-anchor="middle" fill="#111" >-NH-</text>
<text x="1235.8" y="1180.2" font-size="16.5" text-anchor="middle" fill="#111" >30.3%</text>
<line x1="979.3" y1="1288.5" x2="941.23" y2="1248.41" stroke="#0a0a0a" stroke-width="2.4" />
<path d="M934,1240.8 L945.58,1247.04 L939.63,1252.69 Z" fill="#0a0a0a"/>
<line x1="898.2" y1="1377.9" x2="861.13" y2="1336.8" stroke="#0a0a0a" stroke-width="2.4" />
<path d="M854.1,1329 L865.52,1335.54 L859.43,1341.03 Z" fill="#0a0a0a"/>
<line x1="838.6" y1="1438.4" x2="811.91" y2="1406.28" stroke="#0a0a0a" stroke-width="2.4" />
<path d="M805.2,1398.2 L816.34,1405.19 L810.03,1410.43 Z" fill="#0a0a0a"/>
<text x="905.4" y="1236.7" font-size="22.5" text-anchor="start" fill="#111" >-N<tspan font-size="11" font-weight="bold" dy="-10">+</tspan><tspan dy="10" dx="0.5">-</tspan></text>
<text x="826.7" y="1320.7" font-size="22.5" text-anchor="start" fill="#111" >-NH-</text>
<text x="783.8" y="1393.4" font-size="22.5" text-anchor="start" fill="#111" >-N=</text>
</svg></body></html>
